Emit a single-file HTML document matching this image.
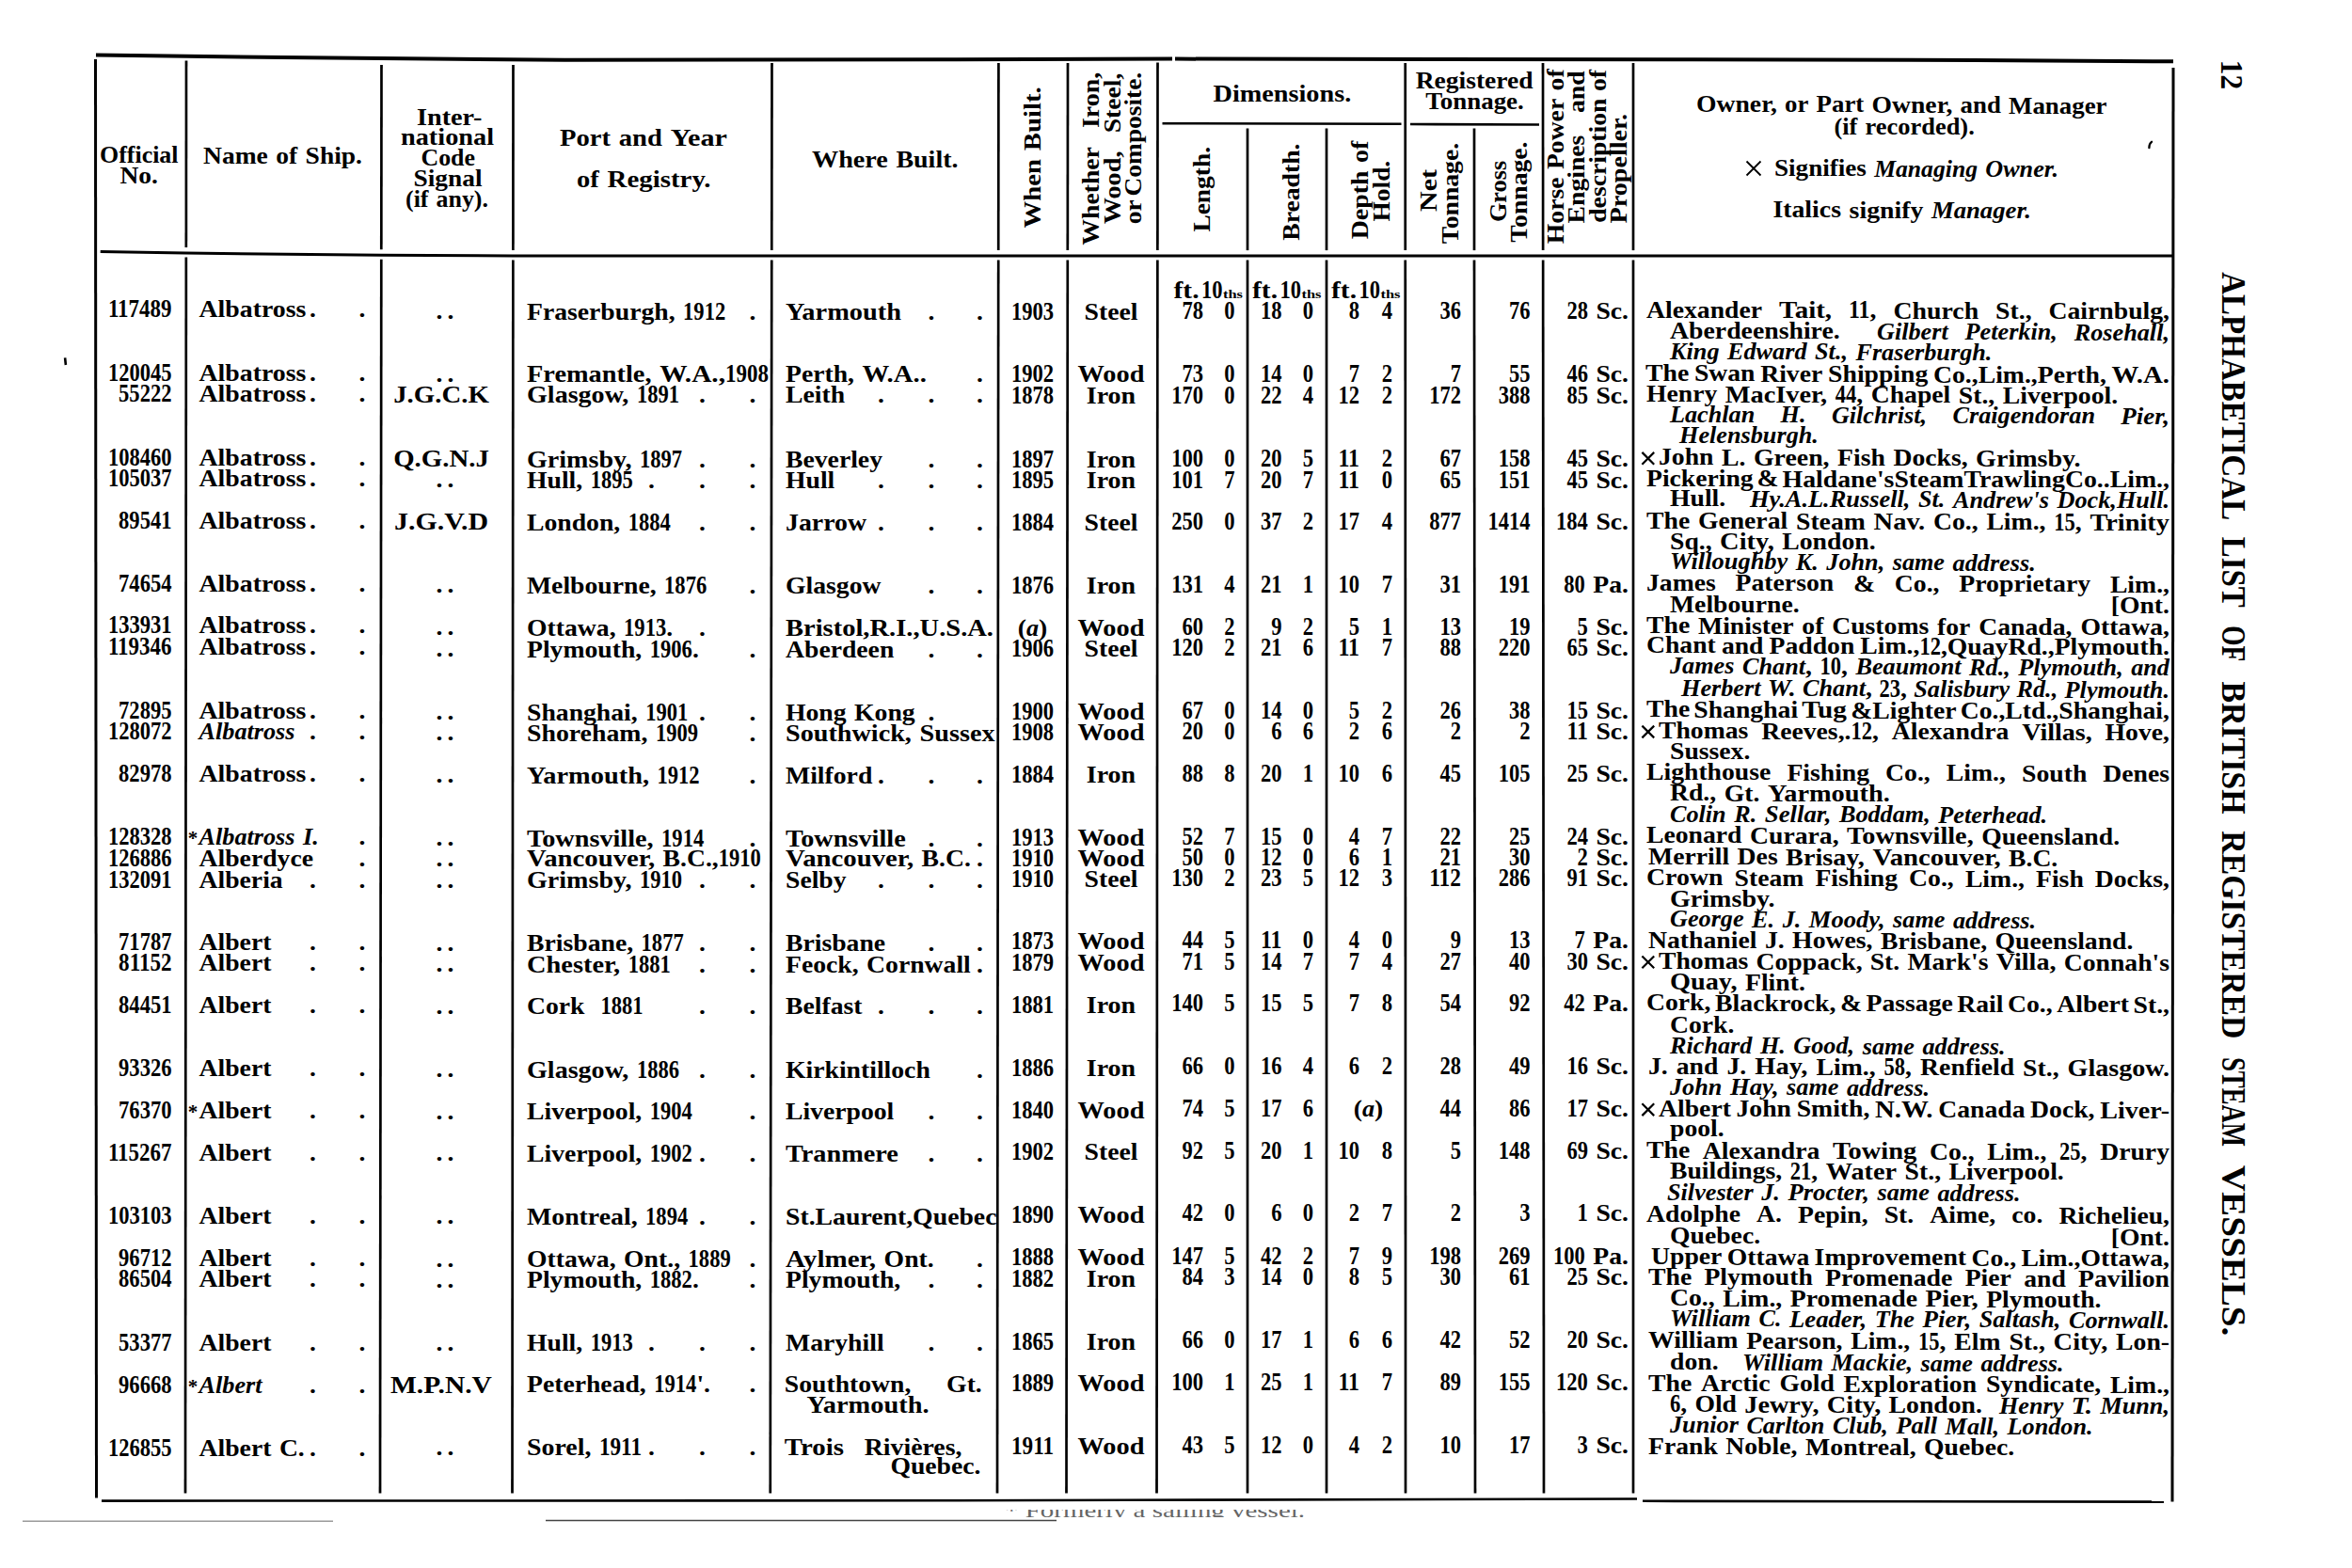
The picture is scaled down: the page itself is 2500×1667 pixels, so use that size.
<!DOCTYPE html>
<html><head><meta charset="utf-8"><style>
html,body{margin:0;padding:0;background:#fff;overflow:hidden;}
svg{display:block;}
</style></head><body>
<svg width="2500" height="1667" viewBox="0 0 2500 1667">
<defs><clipPath id="fc"><rect x="1000" y="1605" width="500" height="8"/></clipPath></defs>
<rect width="2500" height="1667" fill="#fff"/>
<polyline points="102,58.6 300,61 600,63.8 1000,63.3 1246,62.4" fill="none" stroke="#000" stroke-width="4"/>
<polyline points="1249,62.6 1800,63.2 2100,64 2310,65.3" fill="none" stroke="#000" stroke-width="4"/>
<line x1="101.5" y1="63" x2="102.5" y2="1592.5" stroke="#000" stroke-width="3"/>
<line x1="2310" y1="72" x2="2309" y2="1596.5" stroke="#000" stroke-width="3"/>
<polyline points="106.7,267.4 197,269.1 405,271.3 545,271.9 1060,272.1 2309,272.1" fill="none" stroke="#000" stroke-width="3"/>
<polyline points="108,1595.6 1000,1595.3 1200,1594.8 1740,1593.5" fill="none" stroke="#000" stroke-width="2.6"/>
<polyline points="1746,1595.8 2300,1596.6" fill="none" stroke="#000" stroke-width="2.6"/>
<line x1="198" y1="64.5" x2="197.86959252992574" y2="263.11057692307696" stroke="#000" stroke-width="2.7"/>
<line x1="197.86269824233548" y1="273.61057692307696" x2="197" y2="1587.5" stroke="#000" stroke-width="2.7"/>
<line x1="405.5" y1="69" x2="405.30608942095114" y2="265.3021428571429" stroke="#000" stroke-width="2.7"/>
<line x1="405.29571734324287" y1="275.8021428571429" x2="404" y2="1587.5" stroke="#000" stroke-width="2.7"/>
<line x1="545.5" y1="69" x2="545.3703324371586" y2="265.90019417475725" stroke="#000" stroke-width="2.7"/>
<line x1="545.3634177186864" y1="276.40019417475725" x2="544.5" y2="1587.5" stroke="#000" stroke-width="2.7"/>
<line x1="820.5" y1="67" x2="820.2709554534629" y2="266.0069902912621" stroke="#000" stroke-width="2.7"/>
<line x1="820.2588706129499" y1="276.5069902912621" x2="818.75" y2="1587.5" stroke="#000" stroke-width="2.7"/>
<line x1="1061.4" y1="67" x2="1061.216678724104" y2="266.1" stroke="#000" stroke-width="2.7"/>
<line x1="1061.2070108516937" y1="276.6" x2="1060" y2="1587.5" stroke="#000" stroke-width="2.7"/>
<line x1="1135" y1="67" x2="1134.8035843472542" y2="266.1" stroke="#000" stroke-width="2.7"/>
<line x1="1134.7932259125287" y1="276.6" x2="1133.5" y2="1587.5" stroke="#000" stroke-width="2.7"/>
<line x1="1230.5" y1="66.5" x2="1230.3687705456937" y2="266.1" stroke="#000" stroke-width="2.7"/>
<line x1="1230.3618671926365" y1="276.6" x2="1229.5" y2="1587.5" stroke="#000" stroke-width="2.7"/>
<line x1="1493.7" y1="67" x2="1493.7392831305492" y2="266.1" stroke="#000" stroke-width="2.7"/>
<line x1="1493.7413548174943" y1="276.6" x2="1494" y2="1587.5" stroke="#000" stroke-width="2.7"/>
<line x1="1640" y1="67" x2="1640.1309437684972" y2="266.1" stroke="#000" stroke-width="2.7"/>
<line x1="1640.1378493916475" y1="276.6" x2="1641" y2="1587.5" stroke="#000" stroke-width="2.7"/>
<line x1="1736" y1="67" x2="1736.0" y2="266.1" stroke="#000" stroke-width="2.7"/>
<line x1="1736.0" y1="276.6" x2="1736" y2="1587.5" stroke="#000" stroke-width="2.7"/>
<line x1="1326" y1="136.5" x2="1326" y2="266.1" stroke="#000" stroke-width="2.7"/>
<line x1="1326" y1="276.6" x2="1326" y2="1587.5" stroke="#000" stroke-width="2.7"/>
<line x1="1410" y1="136.5" x2="1410" y2="266.1" stroke="#000" stroke-width="2.7"/>
<line x1="1410" y1="276.6" x2="1410" y2="1587.5" stroke="#000" stroke-width="2.7"/>
<line x1="1567" y1="136.5" x2="1567" y2="266.1" stroke="#000" stroke-width="2.7"/>
<line x1="1567" y1="276.6" x2="1568" y2="1587.5" stroke="#000" stroke-width="2.7"/>
<line x1="1235.5" y1="131.2" x2="1489.5" y2="131.8" stroke="#000" stroke-width="2.6"/>
<line x1="1499" y1="132" x2="1636" y2="132.5" stroke="#000" stroke-width="2.6"/>
<line x1="24" y1="1617.3" x2="354" y2="1617.3" stroke="#9a9a9a" stroke-width="1.6"/>
<line x1="580" y1="1616.5" x2="1123" y2="1616.5" stroke="#444" stroke-width="1.6"/>
<line x1="69.1" y1="380.3" x2="69.9" y2="388" stroke="#000" stroke-width="2.6"/>
<path d="M2287,150.8 Q2284.3,152.8 2284.4,157.2" fill="none" stroke="#000" stroke-width="2.3" stroke-linecap="round"/>
<g font-family="'Liberation Serif', serif" font-weight="bold" font-size="25.2" fill="#000">
<text x="106.0" y="172.5" textLength="83.5" lengthAdjust="spacingAndGlyphs">Official</text>
<text x="127.5" y="194.5" textLength="40.5" lengthAdjust="spacingAndGlyphs">No.</text>
<text x="216.0" y="173.6" textLength="68.8" lengthAdjust="spacingAndGlyphs">Name</text>
<text x="293.2" y="173.6" textLength="22.9" lengthAdjust="spacingAndGlyphs">of</text>
<text x="324.6" y="173.6" textLength="60.4" lengthAdjust="spacingAndGlyphs">Ship.</text>
<text x="443.0" y="132.5" textLength="69.5" lengthAdjust="spacingAndGlyphs">Inter-</text>
<text x="426.0" y="153.8" textLength="99.0" lengthAdjust="spacingAndGlyphs">national</text>
<text x="447.5" y="176.0" textLength="57.5" lengthAdjust="spacingAndGlyphs">Code</text>
<text x="439.5" y="198.0" textLength="73.0" lengthAdjust="spacingAndGlyphs">Signal</text>
<text x="431.0" y="220.4" textLength="24.5" lengthAdjust="spacingAndGlyphs">(if</text>
<text x="463.5" y="220.4" textLength="55.5" lengthAdjust="spacingAndGlyphs">any).</text>
<text x="595.0" y="154.5" textLength="54.0" lengthAdjust="spacingAndGlyphs">Port</text>
<text x="657.8" y="154.5" textLength="46.1" lengthAdjust="spacingAndGlyphs">and</text>
<text x="712.7" y="154.5" textLength="60.3" lengthAdjust="spacingAndGlyphs">Year</text>
<text x="613.0" y="199.1" textLength="23.7" lengthAdjust="spacingAndGlyphs">of</text>
<text x="645.5" y="199.1" textLength="110.0" lengthAdjust="spacingAndGlyphs">Registry.</text>
<text x="863.0" y="177.5" textLength="80.8" lengthAdjust="spacingAndGlyphs">Where</text>
<text x="952.4" y="177.5" textLength="66.1" lengthAdjust="spacingAndGlyphs">Built.</text>
<text x="1289.5" y="108.0" textLength="146.7" lengthAdjust="spacingAndGlyphs">Dimensions.</text>
<text x="1504.7" y="93.7" textLength="124.9" lengthAdjust="spacingAndGlyphs">Registered</text>
<text x="1515.3" y="116.1" textLength="104.5" lengthAdjust="spacingAndGlyphs">Tonnage.</text>
<text x="1803.0" y="118.8" textLength="85.8" lengthAdjust="spacingAndGlyphs">Owner,</text>
<text x="1897.0" y="119.2" textLength="25.3" lengthAdjust="spacingAndGlyphs">or</text>
<text x="1930.6" y="119.4" textLength="50.7" lengthAdjust="spacingAndGlyphs">Part</text>
<text x="1989.5" y="119.9" textLength="85.8" lengthAdjust="spacingAndGlyphs">Owner,</text>
<text x="2083.6" y="120.4" textLength="43.3" lengthAdjust="spacingAndGlyphs">and</text>
<text x="2135.1" y="120.9" textLength="104.4" lengthAdjust="spacingAndGlyphs">Manager</text>
<text x="1949.5" y="142.9" textLength="24.9" lengthAdjust="spacingAndGlyphs">(if</text>
<text x="1982.5" y="143.2" textLength="116.3" lengthAdjust="spacingAndGlyphs">recorded).</text>
<path d="M1856.5,171.5L1871.5,186.5M1871.5,171.5L1856.5,186.5" stroke="#000" stroke-width="1.8" fill="none"/>
<text x="1886.0" y="187.1" textLength="97.9" lengthAdjust="spacingAndGlyphs">Signifies</text>
<text x="1992.2" y="187.6" font-style="italic" textLength="109.8" lengthAdjust="spacingAndGlyphs">Managing</text>
<text x="2110.3" y="188.0" font-style="italic" textLength="77.7" lengthAdjust="spacingAndGlyphs">Owner.</text>
<text x="1884.4" y="231.3" textLength="72.6" lengthAdjust="spacingAndGlyphs">Italics</text>
<text x="1965.6" y="231.7" textLength="78.8" lengthAdjust="spacingAndGlyphs">signify</text>
<text x="2052.9" y="232.1" font-style="italic" textLength="106.1" lengthAdjust="spacingAndGlyphs">Manager.</text>
<g transform="translate(1105.6,242.5) rotate(-90)"><text x="0.0" y="0.0" textLength="73.5" lengthAdjust="spacingAndGlyphs">When</text>
<text x="82.3" y="0.0" textLength="67.9" lengthAdjust="spacingAndGlyphs">Built.</text></g>
<g transform="translate(1168,260.7) rotate(-90)"><text x="0.0" y="0.0" textLength="104.6" lengthAdjust="spacingAndGlyphs">Whether</text>
<text x="124.7" y="0.0" textLength="59.2" lengthAdjust="spacingAndGlyphs">Iron,</text></g>
<g transform="translate(1190.5,238.2) rotate(-90)"><text x="0.0" y="0.0" textLength="77.7" lengthAdjust="spacingAndGlyphs">Wood,</text>
<text x="96.9" y="0.0" textLength="63.8" lengthAdjust="spacingAndGlyphs">Steel,</text></g>
<g transform="translate(1213,238.2) rotate(-90)"><text x="0.0" y="0.0" textLength="25.8" lengthAdjust="spacingAndGlyphs">or</text>
<text x="29.8" y="0.0" textLength="131.6" lengthAdjust="spacingAndGlyphs">Composite.</text></g>
<g transform="translate(1286,246.6) rotate(-90)"><text x="0.0" y="0.0" textLength="90.6" lengthAdjust="spacingAndGlyphs">Length.</text></g>
<g transform="translate(1381.4,255.7) rotate(-90)"><text x="0.0" y="0.0" textLength="103.1" lengthAdjust="spacingAndGlyphs">Breadth.</text></g>
<g transform="translate(1454.4,254.3) rotate(-90)"><text x="0.0" y="0.0" textLength="72.7" lengthAdjust="spacingAndGlyphs">Depth</text>
<text x="81.3" y="0.0" textLength="23.2" lengthAdjust="spacingAndGlyphs">of</text></g>
<g transform="translate(1476.9,235.4) rotate(-90)"><text x="0.0" y="0.0" textLength="64.6" lengthAdjust="spacingAndGlyphs">Hold.</text></g>
<g transform="translate(1527.2,224.9) rotate(-90)"><text x="0.0" y="0.0" textLength="44.9" lengthAdjust="spacingAndGlyphs">Net</text></g>
<g transform="translate(1550.3,259.2) rotate(-90)"><text x="0.0" y="0.0" textLength="107.3" lengthAdjust="spacingAndGlyphs">Tonnage.</text></g>
<g transform="translate(1600.8,236.1) rotate(-90)"><text x="0.0" y="0.0" textLength="65.3" lengthAdjust="spacingAndGlyphs">Gross</text></g>
<g transform="translate(1622.6,257.8) rotate(-90)"><text x="0.0" y="0.0" textLength="107.3" lengthAdjust="spacingAndGlyphs">Tonnage.</text></g>
<g transform="translate(1661.9,259.2) rotate(-90)"><text x="0.0" y="0.0" textLength="70.7" lengthAdjust="spacingAndGlyphs">Horse</text>
<text x="79.1" y="0.0" textLength="75.3" lengthAdjust="spacingAndGlyphs">Power</text>
<text x="162.8" y="0.0" textLength="23.1" lengthAdjust="spacingAndGlyphs">of</text></g>
<g transform="translate(1684.3,237.5) rotate(-90)"><text x="0.0" y="0.0" textLength="93.9" lengthAdjust="spacingAndGlyphs">Engines</text>
<text x="117.5" y="0.0" textLength="44.6" lengthAdjust="spacingAndGlyphs">and</text></g>
<g transform="translate(1706.8,236.8) rotate(-90)"><text x="0.0" y="0.0" textLength="132.3" lengthAdjust="spacingAndGlyphs">description</text>
<text x="139.7" y="0.0" textLength="23.1" lengthAdjust="spacingAndGlyphs">of</text></g>
<g transform="translate(1728.5,237.5) rotate(-90)"><text x="0.0" y="0.0" textLength="116.5" lengthAdjust="spacingAndGlyphs">Propeller.</text></g>
<text x="114.9" y="337.0" font-size="26.8" textLength="67.6" lengthAdjust="spacingAndGlyphs">117489</text>
<text x="211.5" y="337.0" textLength="113.8" lengthAdjust="spacingAndGlyphs">Albatross</text>
<text x="332.5" y="337.0" text-anchor="middle" textLength="6.9" lengthAdjust="spacingAndGlyphs">.</text>
<text x="385.0" y="337.0" text-anchor="middle" textLength="6.9" lengthAdjust="spacingAndGlyphs">.</text>
<text x="467.0" y="338.5" text-anchor="middle" textLength="6.9" lengthAdjust="spacingAndGlyphs">.</text>
<text x="479.0" y="338.5" text-anchor="middle" textLength="6.9" lengthAdjust="spacingAndGlyphs">.</text>
<text x="560.0" y="339.9" textLength="157.6" lengthAdjust="spacingAndGlyphs">Fraserburgh,</text>
<text x="726.1" y="339.9" font-size="26.8" textLength="45.1" lengthAdjust="spacingAndGlyphs">1912</text>
<text x="800.0" y="339.9" text-anchor="middle" textLength="6.9" lengthAdjust="spacingAndGlyphs">.</text>
<text x="835.0" y="339.9" textLength="123.0" lengthAdjust="spacingAndGlyphs">Yarmouth</text>
<text x="990.0" y="339.9" text-anchor="middle" textLength="6.9" lengthAdjust="spacingAndGlyphs">.</text>
<text x="1041.5" y="339.9" text-anchor="middle" textLength="6.9" lengthAdjust="spacingAndGlyphs">.</text>
<text x="1075.0" y="339.6" font-size="26.8" textLength="45.1" lengthAdjust="spacingAndGlyphs">1903</text>
<text x="1152.6" y="339.6" textLength="56.9" lengthAdjust="spacingAndGlyphs">Steel</text>
<text x="1256.5" y="339.3" font-size="26.8" textLength="22.5" lengthAdjust="spacingAndGlyphs">78</text>
<text x="1301.2" y="339.3" font-size="26.8" textLength="11.3" lengthAdjust="spacingAndGlyphs">0</text>
<text x="1340.0" y="339.3" font-size="26.8" textLength="22.5" lengthAdjust="spacingAndGlyphs">18</text>
<text x="1384.7" y="339.3" font-size="26.8" textLength="11.3" lengthAdjust="spacingAndGlyphs">0</text>
<text x="1433.7" y="339.3" font-size="26.8" textLength="11.3" lengthAdjust="spacingAndGlyphs">8</text>
<text x="1468.7" y="339.3" font-size="26.8" textLength="11.3" lengthAdjust="spacingAndGlyphs">4</text>
<text x="1530.5" y="339.3" font-size="26.8" textLength="22.5" lengthAdjust="spacingAndGlyphs">36</text>
<text x="1604.0" y="339.3" font-size="26.8" textLength="22.5" lengthAdjust="spacingAndGlyphs">76</text>
<text x="1665.4" y="339.3" font-size="26.8" textLength="22.5" lengthAdjust="spacingAndGlyphs">28</text>
<text x="1696.4" y="339.3" textLength="34.6" lengthAdjust="spacingAndGlyphs">Sc.</text>
<text x="114.9" y="404.7" font-size="26.8" textLength="67.6" lengthAdjust="spacingAndGlyphs">120045</text>
<text x="211.5" y="404.7" textLength="113.8" lengthAdjust="spacingAndGlyphs">Albatross</text>
<text x="332.5" y="404.7" text-anchor="middle" textLength="6.9" lengthAdjust="spacingAndGlyphs">.</text>
<text x="385.0" y="404.7" text-anchor="middle" textLength="6.9" lengthAdjust="spacingAndGlyphs">.</text>
<text x="467.0" y="405.5" text-anchor="middle" textLength="6.9" lengthAdjust="spacingAndGlyphs">.</text>
<text x="479.0" y="405.5" text-anchor="middle" textLength="6.9" lengthAdjust="spacingAndGlyphs">.</text>
<text x="560.0" y="406.2" textLength="132.5" lengthAdjust="spacingAndGlyphs">Fremantle,</text>
<text x="701.2" y="406.2" textLength="69.8" lengthAdjust="spacingAndGlyphs">W.A.,</text>
<text x="771.0" y="406.2" font-size="26.8" textLength="46.0" lengthAdjust="spacingAndGlyphs">1908</text>
<text x="835.0" y="406.2" textLength="73.0" lengthAdjust="spacingAndGlyphs">Perth,</text>
<text x="916.5" y="406.2" textLength="68.4" lengthAdjust="spacingAndGlyphs">W.A..</text>
<text x="1041.5" y="406.2" text-anchor="middle" textLength="6.9" lengthAdjust="spacingAndGlyphs">.</text>
<text x="1075.0" y="406.3" font-size="26.8" textLength="45.1" lengthAdjust="spacingAndGlyphs">1902</text>
<text x="1145.6" y="406.3" textLength="70.8" lengthAdjust="spacingAndGlyphs">Wood</text>
<text x="1256.5" y="406.4" font-size="26.8" textLength="22.5" lengthAdjust="spacingAndGlyphs">73</text>
<text x="1301.2" y="406.4" font-size="26.8" textLength="11.3" lengthAdjust="spacingAndGlyphs">0</text>
<text x="1340.0" y="406.4" font-size="26.8" textLength="22.5" lengthAdjust="spacingAndGlyphs">14</text>
<text x="1384.7" y="406.4" font-size="26.8" textLength="11.3" lengthAdjust="spacingAndGlyphs">0</text>
<text x="1433.7" y="406.4" font-size="26.8" textLength="11.3" lengthAdjust="spacingAndGlyphs">7</text>
<text x="1468.7" y="406.4" font-size="26.8" textLength="11.3" lengthAdjust="spacingAndGlyphs">2</text>
<text x="1541.7" y="406.4" font-size="26.8" textLength="11.3" lengthAdjust="spacingAndGlyphs">7</text>
<text x="1604.0" y="406.4" font-size="26.8" textLength="22.5" lengthAdjust="spacingAndGlyphs">55</text>
<text x="1665.4" y="406.4" font-size="26.8" textLength="22.5" lengthAdjust="spacingAndGlyphs">46</text>
<text x="1696.4" y="406.4" textLength="34.6" lengthAdjust="spacingAndGlyphs">Sc.</text>
<text x="126.1" y="427.2" font-size="26.8" textLength="56.4" lengthAdjust="spacingAndGlyphs">55222</text>
<text x="211.5" y="427.2" textLength="113.8" lengthAdjust="spacingAndGlyphs">Albatross</text>
<text x="332.5" y="427.2" text-anchor="middle" textLength="6.9" lengthAdjust="spacingAndGlyphs">.</text>
<text x="385.0" y="427.2" text-anchor="middle" textLength="6.9" lengthAdjust="spacingAndGlyphs">.</text>
<text x="418.2" y="427.8" textLength="101.6" lengthAdjust="spacingAndGlyphs">J.G.C.K</text>
<text x="560.0" y="428.4" textLength="108.4" lengthAdjust="spacingAndGlyphs">Glasgow,</text>
<text x="676.9" y="428.4" font-size="26.8" textLength="45.1" lengthAdjust="spacingAndGlyphs">1891</text>
<text x="746.5" y="428.4" text-anchor="middle" textLength="6.9" lengthAdjust="spacingAndGlyphs">.</text>
<text x="800.0" y="428.4" text-anchor="middle" textLength="6.9" lengthAdjust="spacingAndGlyphs">.</text>
<text x="835.0" y="428.4" textLength="63.1" lengthAdjust="spacingAndGlyphs">Leith</text>
<text x="936.5" y="428.4" text-anchor="middle" textLength="6.9" lengthAdjust="spacingAndGlyphs">.</text>
<text x="990.0" y="428.4" text-anchor="middle" textLength="6.9" lengthAdjust="spacingAndGlyphs">.</text>
<text x="1041.5" y="428.4" text-anchor="middle" textLength="6.9" lengthAdjust="spacingAndGlyphs">.</text>
<text x="1075.0" y="428.9" font-size="26.8" textLength="45.1" lengthAdjust="spacingAndGlyphs">1878</text>
<text x="1154.8" y="428.9" textLength="52.3" lengthAdjust="spacingAndGlyphs">Iron</text>
<text x="1245.2" y="429.4" font-size="26.8" textLength="33.8" lengthAdjust="spacingAndGlyphs">170</text>
<text x="1301.2" y="429.4" font-size="26.8" textLength="11.3" lengthAdjust="spacingAndGlyphs">0</text>
<text x="1340.0" y="429.4" font-size="26.8" textLength="22.5" lengthAdjust="spacingAndGlyphs">22</text>
<text x="1384.7" y="429.4" font-size="26.8" textLength="11.3" lengthAdjust="spacingAndGlyphs">4</text>
<text x="1422.5" y="429.4" font-size="26.8" textLength="22.5" lengthAdjust="spacingAndGlyphs">12</text>
<text x="1468.7" y="429.4" font-size="26.8" textLength="11.3" lengthAdjust="spacingAndGlyphs">2</text>
<text x="1519.2" y="429.4" font-size="26.8" textLength="33.8" lengthAdjust="spacingAndGlyphs">172</text>
<text x="1592.7" y="429.4" font-size="26.8" textLength="33.8" lengthAdjust="spacingAndGlyphs">388</text>
<text x="1665.4" y="429.4" font-size="26.8" textLength="22.5" lengthAdjust="spacingAndGlyphs">85</text>
<text x="1696.4" y="429.4" textLength="34.6" lengthAdjust="spacingAndGlyphs">Sc.</text>
<text x="114.9" y="494.8" font-size="26.8" textLength="67.6" lengthAdjust="spacingAndGlyphs">108460</text>
<text x="211.5" y="494.8" textLength="113.8" lengthAdjust="spacingAndGlyphs">Albatross</text>
<text x="332.5" y="494.8" text-anchor="middle" textLength="6.9" lengthAdjust="spacingAndGlyphs">.</text>
<text x="385.0" y="494.8" text-anchor="middle" textLength="6.9" lengthAdjust="spacingAndGlyphs">.</text>
<text x="418.2" y="495.8" textLength="101.6" lengthAdjust="spacingAndGlyphs">Q.G.N.J</text>
<text x="560.0" y="496.7" textLength="111.5" lengthAdjust="spacingAndGlyphs">Grimsby,</text>
<text x="680.0" y="496.7" font-size="26.8" textLength="45.1" lengthAdjust="spacingAndGlyphs">1897</text>
<text x="746.5" y="496.7" text-anchor="middle" textLength="6.9" lengthAdjust="spacingAndGlyphs">.</text>
<text x="800.0" y="496.7" text-anchor="middle" textLength="6.9" lengthAdjust="spacingAndGlyphs">.</text>
<text x="835.0" y="496.7" textLength="103.0" lengthAdjust="spacingAndGlyphs">Beverley</text>
<text x="990.0" y="496.7" text-anchor="middle" textLength="6.9" lengthAdjust="spacingAndGlyphs">.</text>
<text x="1041.5" y="496.7" text-anchor="middle" textLength="6.9" lengthAdjust="spacingAndGlyphs">.</text>
<text x="1075.0" y="496.5" font-size="26.8" textLength="45.1" lengthAdjust="spacingAndGlyphs">1897</text>
<text x="1154.8" y="496.5" textLength="52.3" lengthAdjust="spacingAndGlyphs">Iron</text>
<text x="1245.2" y="496.2" font-size="26.8" textLength="33.8" lengthAdjust="spacingAndGlyphs">100</text>
<text x="1301.2" y="496.2" font-size="26.8" textLength="11.3" lengthAdjust="spacingAndGlyphs">0</text>
<text x="1340.0" y="496.2" font-size="26.8" textLength="22.5" lengthAdjust="spacingAndGlyphs">20</text>
<text x="1384.7" y="496.2" font-size="26.8" textLength="11.3" lengthAdjust="spacingAndGlyphs">5</text>
<text x="1422.5" y="496.2" font-size="26.8" textLength="22.5" lengthAdjust="spacingAndGlyphs">11</text>
<text x="1468.7" y="496.2" font-size="26.8" textLength="11.3" lengthAdjust="spacingAndGlyphs">2</text>
<text x="1530.5" y="496.2" font-size="26.8" textLength="22.5" lengthAdjust="spacingAndGlyphs">67</text>
<text x="1592.7" y="496.2" font-size="26.8" textLength="33.8" lengthAdjust="spacingAndGlyphs">158</text>
<text x="1665.4" y="496.2" font-size="26.8" textLength="22.5" lengthAdjust="spacingAndGlyphs">45</text>
<text x="1696.4" y="496.2" textLength="34.6" lengthAdjust="spacingAndGlyphs">Sc.</text>
<text x="114.9" y="516.9" font-size="26.8" textLength="67.6" lengthAdjust="spacingAndGlyphs">105037</text>
<text x="211.5" y="516.9" textLength="113.8" lengthAdjust="spacingAndGlyphs">Albatross</text>
<text x="332.5" y="516.9" text-anchor="middle" textLength="6.9" lengthAdjust="spacingAndGlyphs">.</text>
<text x="385.0" y="516.9" text-anchor="middle" textLength="6.9" lengthAdjust="spacingAndGlyphs">.</text>
<text x="467.0" y="518.0" text-anchor="middle" textLength="6.9" lengthAdjust="spacingAndGlyphs">.</text>
<text x="479.0" y="518.0" text-anchor="middle" textLength="6.9" lengthAdjust="spacingAndGlyphs">.</text>
<text x="560.0" y="519.0" textLength="59.2" lengthAdjust="spacingAndGlyphs">Hull,</text>
<text x="627.7" y="519.0" font-size="26.8" textLength="45.1" lengthAdjust="spacingAndGlyphs">1895</text>
<text x="692.5" y="519.0" text-anchor="middle" textLength="6.9" lengthAdjust="spacingAndGlyphs">.</text>
<text x="746.5" y="519.0" text-anchor="middle" textLength="6.9" lengthAdjust="spacingAndGlyphs">.</text>
<text x="800.0" y="519.0" text-anchor="middle" textLength="6.9" lengthAdjust="spacingAndGlyphs">.</text>
<text x="835.0" y="519.0" textLength="52.3" lengthAdjust="spacingAndGlyphs">Hull</text>
<text x="936.5" y="519.0" text-anchor="middle" textLength="6.9" lengthAdjust="spacingAndGlyphs">.</text>
<text x="990.0" y="519.0" text-anchor="middle" textLength="6.9" lengthAdjust="spacingAndGlyphs">.</text>
<text x="1041.5" y="519.0" text-anchor="middle" textLength="6.9" lengthAdjust="spacingAndGlyphs">.</text>
<text x="1075.0" y="518.9" font-size="26.8" textLength="45.1" lengthAdjust="spacingAndGlyphs">1895</text>
<text x="1154.8" y="518.9" textLength="52.3" lengthAdjust="spacingAndGlyphs">Iron</text>
<text x="1245.2" y="518.7" font-size="26.8" textLength="33.8" lengthAdjust="spacingAndGlyphs">101</text>
<text x="1301.2" y="518.7" font-size="26.8" textLength="11.3" lengthAdjust="spacingAndGlyphs">7</text>
<text x="1340.0" y="518.7" font-size="26.8" textLength="22.5" lengthAdjust="spacingAndGlyphs">20</text>
<text x="1384.7" y="518.7" font-size="26.8" textLength="11.3" lengthAdjust="spacingAndGlyphs">7</text>
<text x="1422.5" y="518.7" font-size="26.8" textLength="22.5" lengthAdjust="spacingAndGlyphs">11</text>
<text x="1468.7" y="518.7" font-size="26.8" textLength="11.3" lengthAdjust="spacingAndGlyphs">0</text>
<text x="1530.5" y="518.7" font-size="26.8" textLength="22.5" lengthAdjust="spacingAndGlyphs">65</text>
<text x="1592.7" y="518.7" font-size="26.8" textLength="33.8" lengthAdjust="spacingAndGlyphs">151</text>
<text x="1665.4" y="518.7" font-size="26.8" textLength="22.5" lengthAdjust="spacingAndGlyphs">45</text>
<text x="1696.4" y="518.7" textLength="34.6" lengthAdjust="spacingAndGlyphs">Sc.</text>
<text x="126.1" y="561.6" font-size="26.8" textLength="56.4" lengthAdjust="spacingAndGlyphs">89541</text>
<text x="211.5" y="561.6" textLength="113.8" lengthAdjust="spacingAndGlyphs">Albatross</text>
<text x="332.5" y="561.6" text-anchor="middle" textLength="6.9" lengthAdjust="spacingAndGlyphs">.</text>
<text x="385.0" y="561.6" text-anchor="middle" textLength="6.9" lengthAdjust="spacingAndGlyphs">.</text>
<text x="419.0" y="562.9" textLength="100.0" lengthAdjust="spacingAndGlyphs">J.G.V.D</text>
<text x="560.0" y="564.1" textLength="99.3" lengthAdjust="spacingAndGlyphs">London,</text>
<text x="667.8" y="564.1" font-size="26.8" textLength="45.1" lengthAdjust="spacingAndGlyphs">1884</text>
<text x="746.5" y="564.1" text-anchor="middle" textLength="6.9" lengthAdjust="spacingAndGlyphs">.</text>
<text x="800.0" y="564.1" text-anchor="middle" textLength="6.9" lengthAdjust="spacingAndGlyphs">.</text>
<text x="835.0" y="564.1" textLength="86.1" lengthAdjust="spacingAndGlyphs">Jarrow</text>
<text x="936.5" y="564.1" text-anchor="middle" textLength="6.9" lengthAdjust="spacingAndGlyphs">.</text>
<text x="990.0" y="564.1" text-anchor="middle" textLength="6.9" lengthAdjust="spacingAndGlyphs">.</text>
<text x="1041.5" y="564.1" text-anchor="middle" textLength="6.9" lengthAdjust="spacingAndGlyphs">.</text>
<text x="1075.0" y="563.6" font-size="26.8" textLength="45.1" lengthAdjust="spacingAndGlyphs">1884</text>
<text x="1152.6" y="563.6" textLength="56.9" lengthAdjust="spacingAndGlyphs">Steel</text>
<text x="1245.2" y="563.1" font-size="26.8" textLength="33.8" lengthAdjust="spacingAndGlyphs">250</text>
<text x="1301.2" y="563.1" font-size="26.8" textLength="11.3" lengthAdjust="spacingAndGlyphs">0</text>
<text x="1340.0" y="563.1" font-size="26.8" textLength="22.5" lengthAdjust="spacingAndGlyphs">37</text>
<text x="1384.7" y="563.1" font-size="26.8" textLength="11.3" lengthAdjust="spacingAndGlyphs">2</text>
<text x="1422.5" y="563.1" font-size="26.8" textLength="22.5" lengthAdjust="spacingAndGlyphs">17</text>
<text x="1468.7" y="563.1" font-size="26.8" textLength="11.3" lengthAdjust="spacingAndGlyphs">4</text>
<text x="1519.2" y="563.1" font-size="26.8" textLength="33.8" lengthAdjust="spacingAndGlyphs">877</text>
<text x="1581.4" y="563.1" font-size="26.8" textLength="45.1" lengthAdjust="spacingAndGlyphs">1414</text>
<text x="1654.1" y="563.1" font-size="26.8" textLength="33.8" lengthAdjust="spacingAndGlyphs">184</text>
<text x="1696.4" y="563.1" textLength="34.6" lengthAdjust="spacingAndGlyphs">Sc.</text>
<text x="126.1" y="629.4" font-size="26.8" textLength="56.4" lengthAdjust="spacingAndGlyphs">74654</text>
<text x="211.5" y="629.4" textLength="113.8" lengthAdjust="spacingAndGlyphs">Albatross</text>
<text x="332.5" y="629.4" text-anchor="middle" textLength="6.9" lengthAdjust="spacingAndGlyphs">.</text>
<text x="385.0" y="629.4" text-anchor="middle" textLength="6.9" lengthAdjust="spacingAndGlyphs">.</text>
<text x="467.0" y="630.3" text-anchor="middle" textLength="6.9" lengthAdjust="spacingAndGlyphs">.</text>
<text x="479.0" y="630.3" text-anchor="middle" textLength="6.9" lengthAdjust="spacingAndGlyphs">.</text>
<text x="560.0" y="631.2" textLength="137.6" lengthAdjust="spacingAndGlyphs">Melbourne,</text>
<text x="706.1" y="631.2" font-size="26.8" textLength="45.1" lengthAdjust="spacingAndGlyphs">1876</text>
<text x="800.0" y="631.2" text-anchor="middle" textLength="6.9" lengthAdjust="spacingAndGlyphs">.</text>
<text x="835.0" y="631.2" textLength="101.5" lengthAdjust="spacingAndGlyphs">Glasgow</text>
<text x="990.0" y="631.2" text-anchor="middle" textLength="6.9" lengthAdjust="spacingAndGlyphs">.</text>
<text x="1041.5" y="631.2" text-anchor="middle" textLength="6.9" lengthAdjust="spacingAndGlyphs">.</text>
<text x="1075.0" y="630.7" font-size="26.8" textLength="45.1" lengthAdjust="spacingAndGlyphs">1876</text>
<text x="1154.8" y="630.7" textLength="52.3" lengthAdjust="spacingAndGlyphs">Iron</text>
<text x="1245.2" y="630.2" font-size="26.8" textLength="33.8" lengthAdjust="spacingAndGlyphs">131</text>
<text x="1301.2" y="630.2" font-size="26.8" textLength="11.3" lengthAdjust="spacingAndGlyphs">4</text>
<text x="1340.0" y="630.2" font-size="26.8" textLength="22.5" lengthAdjust="spacingAndGlyphs">21</text>
<text x="1384.7" y="630.2" font-size="26.8" textLength="11.3" lengthAdjust="spacingAndGlyphs">1</text>
<text x="1422.5" y="630.2" font-size="26.8" textLength="22.5" lengthAdjust="spacingAndGlyphs">10</text>
<text x="1468.7" y="630.2" font-size="26.8" textLength="11.3" lengthAdjust="spacingAndGlyphs">7</text>
<text x="1530.5" y="630.2" font-size="26.8" textLength="22.5" lengthAdjust="spacingAndGlyphs">31</text>
<text x="1592.7" y="630.2" font-size="26.8" textLength="33.8" lengthAdjust="spacingAndGlyphs">191</text>
<text x="1662.3" y="630.2" font-size="26.8" textLength="22.5" lengthAdjust="spacingAndGlyphs">80</text>
<text x="1693.3" y="630.2" textLength="37.7" lengthAdjust="spacingAndGlyphs">Pa.</text>
<text x="114.9" y="673.3" font-size="26.8" textLength="67.6" lengthAdjust="spacingAndGlyphs">133931</text>
<text x="211.5" y="673.3" textLength="113.8" lengthAdjust="spacingAndGlyphs">Albatross</text>
<text x="332.5" y="673.3" text-anchor="middle" textLength="6.9" lengthAdjust="spacingAndGlyphs">.</text>
<text x="385.0" y="673.3" text-anchor="middle" textLength="6.9" lengthAdjust="spacingAndGlyphs">.</text>
<text x="467.0" y="674.9" text-anchor="middle" textLength="6.9" lengthAdjust="spacingAndGlyphs">.</text>
<text x="479.0" y="674.9" text-anchor="middle" textLength="6.9" lengthAdjust="spacingAndGlyphs">.</text>
<text x="560.0" y="676.4" textLength="94.6" lengthAdjust="spacingAndGlyphs">Ottawa,</text>
<text x="663.1" y="676.4" font-size="26.8" textLength="45.1" lengthAdjust="spacingAndGlyphs">1913</text>
<text x="708.2" y="676.4" textLength="6.9" lengthAdjust="spacingAndGlyphs">.</text>
<text x="746.5" y="676.4" text-anchor="middle" textLength="6.9" lengthAdjust="spacingAndGlyphs">.</text>
<text x="835.0" y="676.4" textLength="221.0" lengthAdjust="spacingAndGlyphs">Bristol,R.I.,U.S.A.</text>
<text x="1081.7" y="675.6" textLength="9.2" lengthAdjust="spacingAndGlyphs">(</text>
<text x="1090.9" y="675.6" font-style="italic" textLength="13.1" lengthAdjust="spacingAndGlyphs">a</text>
<text x="1104.1" y="675.6" textLength="9.2" lengthAdjust="spacingAndGlyphs">)</text>
<text x="1145.6" y="675.6" textLength="70.8" lengthAdjust="spacingAndGlyphs">Wood</text>
<text x="1256.5" y="674.8" font-size="26.8" textLength="22.5" lengthAdjust="spacingAndGlyphs">60</text>
<text x="1301.2" y="674.8" font-size="26.8" textLength="11.3" lengthAdjust="spacingAndGlyphs">2</text>
<text x="1351.2" y="674.8" font-size="26.8" textLength="11.3" lengthAdjust="spacingAndGlyphs">9</text>
<text x="1384.7" y="674.8" font-size="26.8" textLength="11.3" lengthAdjust="spacingAndGlyphs">2</text>
<text x="1433.7" y="674.8" font-size="26.8" textLength="11.3" lengthAdjust="spacingAndGlyphs">5</text>
<text x="1468.7" y="674.8" font-size="26.8" textLength="11.3" lengthAdjust="spacingAndGlyphs">1</text>
<text x="1530.5" y="674.8" font-size="26.8" textLength="22.5" lengthAdjust="spacingAndGlyphs">13</text>
<text x="1604.0" y="674.8" font-size="26.8" textLength="22.5" lengthAdjust="spacingAndGlyphs">19</text>
<text x="1676.6" y="674.8" font-size="26.8" textLength="11.3" lengthAdjust="spacingAndGlyphs">5</text>
<text x="1696.4" y="674.8" textLength="34.6" lengthAdjust="spacingAndGlyphs">Sc.</text>
<text x="114.9" y="696.2" font-size="26.8" textLength="67.6" lengthAdjust="spacingAndGlyphs">119346</text>
<text x="211.5" y="696.2" textLength="113.8" lengthAdjust="spacingAndGlyphs">Albatross</text>
<text x="332.5" y="696.2" text-anchor="middle" textLength="6.9" lengthAdjust="spacingAndGlyphs">.</text>
<text x="385.0" y="696.2" text-anchor="middle" textLength="6.9" lengthAdjust="spacingAndGlyphs">.</text>
<text x="467.0" y="697.5" text-anchor="middle" textLength="6.9" lengthAdjust="spacingAndGlyphs">.</text>
<text x="479.0" y="697.5" text-anchor="middle" textLength="6.9" lengthAdjust="spacingAndGlyphs">.</text>
<text x="560.0" y="698.7" textLength="122.3" lengthAdjust="spacingAndGlyphs">Plymouth,</text>
<text x="690.8" y="698.7" font-size="26.8" textLength="45.1" lengthAdjust="spacingAndGlyphs">1906</text>
<text x="735.9" y="698.7" textLength="6.9" lengthAdjust="spacingAndGlyphs">.</text>
<text x="800.0" y="698.7" text-anchor="middle" textLength="6.9" lengthAdjust="spacingAndGlyphs">.</text>
<text x="835.0" y="698.7" textLength="115.3" lengthAdjust="spacingAndGlyphs">Aberdeen</text>
<text x="990.0" y="698.7" text-anchor="middle" textLength="6.9" lengthAdjust="spacingAndGlyphs">.</text>
<text x="1041.5" y="698.7" text-anchor="middle" textLength="6.9" lengthAdjust="spacingAndGlyphs">.</text>
<text x="1075.0" y="698.0" font-size="26.8" textLength="45.1" lengthAdjust="spacingAndGlyphs">1906</text>
<text x="1152.6" y="698.0" textLength="56.9" lengthAdjust="spacingAndGlyphs">Steel</text>
<text x="1245.2" y="697.2" font-size="26.8" textLength="33.8" lengthAdjust="spacingAndGlyphs">120</text>
<text x="1301.2" y="697.2" font-size="26.8" textLength="11.3" lengthAdjust="spacingAndGlyphs">2</text>
<text x="1340.0" y="697.2" font-size="26.8" textLength="22.5" lengthAdjust="spacingAndGlyphs">21</text>
<text x="1384.7" y="697.2" font-size="26.8" textLength="11.3" lengthAdjust="spacingAndGlyphs">6</text>
<text x="1422.5" y="697.2" font-size="26.8" textLength="22.5" lengthAdjust="spacingAndGlyphs">11</text>
<text x="1468.7" y="697.2" font-size="26.8" textLength="11.3" lengthAdjust="spacingAndGlyphs">7</text>
<text x="1530.5" y="697.2" font-size="26.8" textLength="22.5" lengthAdjust="spacingAndGlyphs">88</text>
<text x="1592.7" y="697.2" font-size="26.8" textLength="33.8" lengthAdjust="spacingAndGlyphs">220</text>
<text x="1665.4" y="697.2" font-size="26.8" textLength="22.5" lengthAdjust="spacingAndGlyphs">65</text>
<text x="1696.4" y="697.2" textLength="34.6" lengthAdjust="spacingAndGlyphs">Sc.</text>
<text x="126.1" y="763.8" font-size="26.8" textLength="56.4" lengthAdjust="spacingAndGlyphs">72895</text>
<text x="211.5" y="763.8" textLength="113.8" lengthAdjust="spacingAndGlyphs">Albatross</text>
<text x="332.5" y="763.8" text-anchor="middle" textLength="6.9" lengthAdjust="spacingAndGlyphs">.</text>
<text x="385.0" y="763.8" text-anchor="middle" textLength="6.9" lengthAdjust="spacingAndGlyphs">.</text>
<text x="467.0" y="764.8" text-anchor="middle" textLength="6.9" lengthAdjust="spacingAndGlyphs">.</text>
<text x="479.0" y="764.8" text-anchor="middle" textLength="6.9" lengthAdjust="spacingAndGlyphs">.</text>
<text x="560.0" y="765.8" textLength="117.7" lengthAdjust="spacingAndGlyphs">Shanghai,</text>
<text x="686.2" y="765.8" font-size="26.8" textLength="45.1" lengthAdjust="spacingAndGlyphs">1901</text>
<text x="746.5" y="765.8" text-anchor="middle" textLength="6.9" lengthAdjust="spacingAndGlyphs">.</text>
<text x="800.0" y="765.8" text-anchor="middle" textLength="6.9" lengthAdjust="spacingAndGlyphs">.</text>
<text x="835.0" y="765.8" textLength="64.6" lengthAdjust="spacingAndGlyphs">Hong</text>
<text x="908.1" y="765.8" textLength="64.6" lengthAdjust="spacingAndGlyphs">Kong</text>
<text x="990.0" y="765.8" text-anchor="middle" textLength="6.9" lengthAdjust="spacingAndGlyphs">.</text>
<text x="1075.0" y="764.9" font-size="26.8" textLength="45.1" lengthAdjust="spacingAndGlyphs">1900</text>
<text x="1145.6" y="764.9" textLength="70.8" lengthAdjust="spacingAndGlyphs">Wood</text>
<text x="1256.5" y="764.0" font-size="26.8" textLength="22.5" lengthAdjust="spacingAndGlyphs">67</text>
<text x="1301.2" y="764.0" font-size="26.8" textLength="11.3" lengthAdjust="spacingAndGlyphs">0</text>
<text x="1340.0" y="764.0" font-size="26.8" textLength="22.5" lengthAdjust="spacingAndGlyphs">14</text>
<text x="1384.7" y="764.0" font-size="26.8" textLength="11.3" lengthAdjust="spacingAndGlyphs">0</text>
<text x="1433.7" y="764.0" font-size="26.8" textLength="11.3" lengthAdjust="spacingAndGlyphs">5</text>
<text x="1468.7" y="764.0" font-size="26.8" textLength="11.3" lengthAdjust="spacingAndGlyphs">2</text>
<text x="1530.5" y="764.0" font-size="26.8" textLength="22.5" lengthAdjust="spacingAndGlyphs">26</text>
<text x="1604.0" y="764.0" font-size="26.8" textLength="22.5" lengthAdjust="spacingAndGlyphs">38</text>
<text x="1665.4" y="764.0" font-size="26.8" textLength="22.5" lengthAdjust="spacingAndGlyphs">15</text>
<text x="1696.4" y="764.0" textLength="34.6" lengthAdjust="spacingAndGlyphs">Sc.</text>
<text x="114.9" y="785.5" font-size="26.8" textLength="67.6" lengthAdjust="spacingAndGlyphs">128072</text>
<text x="211.5" y="785.5" font-style="italic" textLength="102.0" lengthAdjust="spacingAndGlyphs">Albatross</text>
<text x="332.5" y="785.5" text-anchor="middle" textLength="6.9" lengthAdjust="spacingAndGlyphs">.</text>
<text x="385.0" y="785.5" text-anchor="middle" textLength="6.9" lengthAdjust="spacingAndGlyphs">.</text>
<text x="467.0" y="786.8" text-anchor="middle" textLength="6.9" lengthAdjust="spacingAndGlyphs">.</text>
<text x="479.0" y="786.8" text-anchor="middle" textLength="6.9" lengthAdjust="spacingAndGlyphs">.</text>
<text x="560.0" y="788.0" textLength="128.4" lengthAdjust="spacingAndGlyphs">Shoreham,</text>
<text x="696.9" y="788.0" font-size="26.8" textLength="45.1" lengthAdjust="spacingAndGlyphs">1909</text>
<text x="800.0" y="788.0" text-anchor="middle" textLength="6.9" lengthAdjust="spacingAndGlyphs">.</text>
<text x="835.0" y="788.0" textLength="133.9" lengthAdjust="spacingAndGlyphs">Southwick,</text>
<text x="977.6" y="788.0" textLength="79.9" lengthAdjust="spacingAndGlyphs">Sussex</text>
<text x="1075.0" y="787.2" font-size="26.8" textLength="45.1" lengthAdjust="spacingAndGlyphs">1908</text>
<text x="1145.6" y="787.2" textLength="70.8" lengthAdjust="spacingAndGlyphs">Wood</text>
<text x="1256.5" y="786.4" font-size="26.8" textLength="22.5" lengthAdjust="spacingAndGlyphs">20</text>
<text x="1301.2" y="786.4" font-size="26.8" textLength="11.3" lengthAdjust="spacingAndGlyphs">0</text>
<text x="1351.2" y="786.4" font-size="26.8" textLength="11.3" lengthAdjust="spacingAndGlyphs">6</text>
<text x="1384.7" y="786.4" font-size="26.8" textLength="11.3" lengthAdjust="spacingAndGlyphs">6</text>
<text x="1433.7" y="786.4" font-size="26.8" textLength="11.3" lengthAdjust="spacingAndGlyphs">2</text>
<text x="1468.7" y="786.4" font-size="26.8" textLength="11.3" lengthAdjust="spacingAndGlyphs">6</text>
<text x="1541.7" y="786.4" font-size="26.8" textLength="11.3" lengthAdjust="spacingAndGlyphs">2</text>
<text x="1615.2" y="786.4" font-size="26.8" textLength="11.3" lengthAdjust="spacingAndGlyphs">2</text>
<text x="1665.4" y="786.4" font-size="26.8" textLength="22.5" lengthAdjust="spacingAndGlyphs">11</text>
<text x="1696.4" y="786.4" textLength="34.6" lengthAdjust="spacingAndGlyphs">Sc.</text>
<text x="126.1" y="831.4" font-size="26.8" textLength="56.4" lengthAdjust="spacingAndGlyphs">82978</text>
<text x="211.5" y="831.4" textLength="113.8" lengthAdjust="spacingAndGlyphs">Albatross</text>
<text x="332.5" y="831.4" text-anchor="middle" textLength="6.9" lengthAdjust="spacingAndGlyphs">.</text>
<text x="385.0" y="831.4" text-anchor="middle" textLength="6.9" lengthAdjust="spacingAndGlyphs">.</text>
<text x="467.0" y="832.0" text-anchor="middle" textLength="6.9" lengthAdjust="spacingAndGlyphs">.</text>
<text x="479.0" y="832.0" text-anchor="middle" textLength="6.9" lengthAdjust="spacingAndGlyphs">.</text>
<text x="560.0" y="832.7" textLength="130.0" lengthAdjust="spacingAndGlyphs">Yarmouth,</text>
<text x="698.5" y="832.7" font-size="26.8" textLength="45.1" lengthAdjust="spacingAndGlyphs">1912</text>
<text x="800.0" y="832.7" text-anchor="middle" textLength="6.9" lengthAdjust="spacingAndGlyphs">.</text>
<text x="835.0" y="832.7" textLength="92.3" lengthAdjust="spacingAndGlyphs">Milford</text>
<text x="936.5" y="832.7" text-anchor="middle" textLength="6.9" lengthAdjust="spacingAndGlyphs">.</text>
<text x="990.0" y="832.7" text-anchor="middle" textLength="6.9" lengthAdjust="spacingAndGlyphs">.</text>
<text x="1041.5" y="832.7" text-anchor="middle" textLength="6.9" lengthAdjust="spacingAndGlyphs">.</text>
<text x="1075.0" y="831.8" font-size="26.8" textLength="45.1" lengthAdjust="spacingAndGlyphs">1884</text>
<text x="1154.8" y="831.8" textLength="52.3" lengthAdjust="spacingAndGlyphs">Iron</text>
<text x="1256.5" y="830.8" font-size="26.8" textLength="22.5" lengthAdjust="spacingAndGlyphs">88</text>
<text x="1301.2" y="830.8" font-size="26.8" textLength="11.3" lengthAdjust="spacingAndGlyphs">8</text>
<text x="1340.0" y="830.8" font-size="26.8" textLength="22.5" lengthAdjust="spacingAndGlyphs">20</text>
<text x="1384.7" y="830.8" font-size="26.8" textLength="11.3" lengthAdjust="spacingAndGlyphs">1</text>
<text x="1422.5" y="830.8" font-size="26.8" textLength="22.5" lengthAdjust="spacingAndGlyphs">10</text>
<text x="1468.7" y="830.8" font-size="26.8" textLength="11.3" lengthAdjust="spacingAndGlyphs">6</text>
<text x="1530.5" y="830.8" font-size="26.8" textLength="22.5" lengthAdjust="spacingAndGlyphs">45</text>
<text x="1592.7" y="830.8" font-size="26.8" textLength="33.8" lengthAdjust="spacingAndGlyphs">105</text>
<text x="1665.4" y="830.8" font-size="26.8" textLength="22.5" lengthAdjust="spacingAndGlyphs">25</text>
<text x="1696.4" y="830.8" textLength="34.6" lengthAdjust="spacingAndGlyphs">Sc.</text>
<text x="114.9" y="897.7" font-size="26.8" textLength="67.6" lengthAdjust="spacingAndGlyphs">128328</text>
<text x="205.0" y="897.7" text-anchor="middle" font-size="21">*</text>
<text x="211.5" y="897.7" font-style="italic" textLength="102.0" lengthAdjust="spacingAndGlyphs">Albatross</text>
<text x="322.0" y="897.7" font-style="italic" textLength="16.8" lengthAdjust="spacingAndGlyphs">I.</text>
<text x="385.0" y="897.7" text-anchor="middle" textLength="6.9" lengthAdjust="spacingAndGlyphs">.</text>
<text x="467.0" y="898.6" text-anchor="middle" textLength="6.9" lengthAdjust="spacingAndGlyphs">.</text>
<text x="479.0" y="898.6" text-anchor="middle" textLength="6.9" lengthAdjust="spacingAndGlyphs">.</text>
<text x="560.0" y="899.5" textLength="134.6" lengthAdjust="spacingAndGlyphs">Townsville,</text>
<text x="703.1" y="899.5" font-size="26.8" textLength="45.1" lengthAdjust="spacingAndGlyphs">1914</text>
<text x="800.0" y="899.5" text-anchor="middle" textLength="6.9" lengthAdjust="spacingAndGlyphs">.</text>
<text x="835.0" y="899.5" textLength="127.7" lengthAdjust="spacingAndGlyphs">Townsville</text>
<text x="990.0" y="899.5" text-anchor="middle" textLength="6.9" lengthAdjust="spacingAndGlyphs">.</text>
<text x="1041.5" y="899.5" text-anchor="middle" textLength="6.9" lengthAdjust="spacingAndGlyphs">.</text>
<text x="1075.0" y="898.7" font-size="26.8" textLength="45.1" lengthAdjust="spacingAndGlyphs">1913</text>
<text x="1145.6" y="898.7" textLength="70.8" lengthAdjust="spacingAndGlyphs">Wood</text>
<text x="1256.5" y="897.9" font-size="26.8" textLength="22.5" lengthAdjust="spacingAndGlyphs">52</text>
<text x="1301.2" y="897.9" font-size="26.8" textLength="11.3" lengthAdjust="spacingAndGlyphs">7</text>
<text x="1340.0" y="897.9" font-size="26.8" textLength="22.5" lengthAdjust="spacingAndGlyphs">15</text>
<text x="1384.7" y="897.9" font-size="26.8" textLength="11.3" lengthAdjust="spacingAndGlyphs">0</text>
<text x="1433.7" y="897.9" font-size="26.8" textLength="11.3" lengthAdjust="spacingAndGlyphs">4</text>
<text x="1468.7" y="897.9" font-size="26.8" textLength="11.3" lengthAdjust="spacingAndGlyphs">7</text>
<text x="1530.5" y="897.9" font-size="26.8" textLength="22.5" lengthAdjust="spacingAndGlyphs">22</text>
<text x="1604.0" y="897.9" font-size="26.8" textLength="22.5" lengthAdjust="spacingAndGlyphs">25</text>
<text x="1665.4" y="897.9" font-size="26.8" textLength="22.5" lengthAdjust="spacingAndGlyphs">24</text>
<text x="1696.4" y="897.9" textLength="34.6" lengthAdjust="spacingAndGlyphs">Sc.</text>
<text x="114.9" y="920.7" font-size="26.8" textLength="67.6" lengthAdjust="spacingAndGlyphs">126886</text>
<text x="211.5" y="920.7" textLength="121.5" lengthAdjust="spacingAndGlyphs">Alberdyce</text>
<text x="385.0" y="920.7" text-anchor="middle" textLength="6.9" lengthAdjust="spacingAndGlyphs">.</text>
<text x="467.0" y="921.0" text-anchor="middle" textLength="6.9" lengthAdjust="spacingAndGlyphs">.</text>
<text x="479.0" y="921.0" text-anchor="middle" textLength="6.9" lengthAdjust="spacingAndGlyphs">.</text>
<text x="560.0" y="921.4" textLength="136.1" lengthAdjust="spacingAndGlyphs">Vancouver,</text>
<text x="704.6" y="921.4" textLength="59.2" lengthAdjust="spacingAndGlyphs">B.C.,</text>
<text x="763.8" y="921.4" font-size="26.8" textLength="45.1" lengthAdjust="spacingAndGlyphs">1910</text>
<text x="835.0" y="921.4" textLength="136.1" lengthAdjust="spacingAndGlyphs">Vancouver,</text>
<text x="979.6" y="921.4" textLength="52.3" lengthAdjust="spacingAndGlyphs">B.C.</text>
<text x="1041.5" y="921.4" text-anchor="middle" textLength="6.9" lengthAdjust="spacingAndGlyphs">.</text>
<text x="1075.0" y="920.8" font-size="26.8" textLength="45.1" lengthAdjust="spacingAndGlyphs">1910</text>
<text x="1145.6" y="920.8" textLength="70.8" lengthAdjust="spacingAndGlyphs">Wood</text>
<text x="1256.5" y="920.1" font-size="26.8" textLength="22.5" lengthAdjust="spacingAndGlyphs">50</text>
<text x="1301.2" y="920.1" font-size="26.8" textLength="11.3" lengthAdjust="spacingAndGlyphs">0</text>
<text x="1340.0" y="920.1" font-size="26.8" textLength="22.5" lengthAdjust="spacingAndGlyphs">12</text>
<text x="1384.7" y="920.1" font-size="26.8" textLength="11.3" lengthAdjust="spacingAndGlyphs">0</text>
<text x="1433.7" y="920.1" font-size="26.8" textLength="11.3" lengthAdjust="spacingAndGlyphs">6</text>
<text x="1468.7" y="920.1" font-size="26.8" textLength="11.3" lengthAdjust="spacingAndGlyphs">1</text>
<text x="1530.5" y="920.1" font-size="26.8" textLength="22.5" lengthAdjust="spacingAndGlyphs">21</text>
<text x="1604.0" y="920.1" font-size="26.8" textLength="22.5" lengthAdjust="spacingAndGlyphs">30</text>
<text x="1676.6" y="920.1" font-size="26.8" textLength="11.3" lengthAdjust="spacingAndGlyphs">2</text>
<text x="1696.4" y="920.1" textLength="34.6" lengthAdjust="spacingAndGlyphs">Sc.</text>
<text x="114.9" y="943.6" font-size="26.8" textLength="67.6" lengthAdjust="spacingAndGlyphs">132091</text>
<text x="211.5" y="943.6" textLength="89.2" lengthAdjust="spacingAndGlyphs">Alberia</text>
<text x="332.5" y="943.6" text-anchor="middle" textLength="6.9" lengthAdjust="spacingAndGlyphs">.</text>
<text x="385.0" y="943.6" text-anchor="middle" textLength="6.9" lengthAdjust="spacingAndGlyphs">.</text>
<text x="467.0" y="943.6" text-anchor="middle" textLength="6.9" lengthAdjust="spacingAndGlyphs">.</text>
<text x="479.0" y="943.6" text-anchor="middle" textLength="6.9" lengthAdjust="spacingAndGlyphs">.</text>
<text x="560.0" y="943.6" textLength="111.5" lengthAdjust="spacingAndGlyphs">Grimsby,</text>
<text x="680.0" y="943.6" font-size="26.8" textLength="45.1" lengthAdjust="spacingAndGlyphs">1910</text>
<text x="746.5" y="943.6" text-anchor="middle" textLength="6.9" lengthAdjust="spacingAndGlyphs">.</text>
<text x="800.0" y="943.6" text-anchor="middle" textLength="6.9" lengthAdjust="spacingAndGlyphs">.</text>
<text x="835.0" y="943.6" textLength="64.6" lengthAdjust="spacingAndGlyphs">Selby</text>
<text x="936.5" y="943.6" text-anchor="middle" textLength="6.9" lengthAdjust="spacingAndGlyphs">.</text>
<text x="990.0" y="943.6" text-anchor="middle" textLength="6.9" lengthAdjust="spacingAndGlyphs">.</text>
<text x="1041.5" y="943.6" text-anchor="middle" textLength="6.9" lengthAdjust="spacingAndGlyphs">.</text>
<text x="1075.0" y="942.8" font-size="26.8" textLength="45.1" lengthAdjust="spacingAndGlyphs">1910</text>
<text x="1152.6" y="942.8" textLength="56.9" lengthAdjust="spacingAndGlyphs">Steel</text>
<text x="1245.2" y="942.0" font-size="26.8" textLength="33.8" lengthAdjust="spacingAndGlyphs">130</text>
<text x="1301.2" y="942.0" font-size="26.8" textLength="11.3" lengthAdjust="spacingAndGlyphs">2</text>
<text x="1340.0" y="942.0" font-size="26.8" textLength="22.5" lengthAdjust="spacingAndGlyphs">23</text>
<text x="1384.7" y="942.0" font-size="26.8" textLength="11.3" lengthAdjust="spacingAndGlyphs">5</text>
<text x="1422.5" y="942.0" font-size="26.8" textLength="22.5" lengthAdjust="spacingAndGlyphs">12</text>
<text x="1468.7" y="942.0" font-size="26.8" textLength="11.3" lengthAdjust="spacingAndGlyphs">3</text>
<text x="1519.2" y="942.0" font-size="26.8" textLength="33.8" lengthAdjust="spacingAndGlyphs">112</text>
<text x="1592.7" y="942.0" font-size="26.8" textLength="33.8" lengthAdjust="spacingAndGlyphs">286</text>
<text x="1665.4" y="942.0" font-size="26.8" textLength="22.5" lengthAdjust="spacingAndGlyphs">91</text>
<text x="1696.4" y="942.0" textLength="34.6" lengthAdjust="spacingAndGlyphs">Sc.</text>
<text x="126.1" y="1010.0" font-size="26.8" textLength="56.4" lengthAdjust="spacingAndGlyphs">71787</text>
<text x="211.5" y="1010.0" textLength="76.9" lengthAdjust="spacingAndGlyphs">Albert</text>
<text x="332.5" y="1010.0" text-anchor="middle" textLength="6.9" lengthAdjust="spacingAndGlyphs">.</text>
<text x="385.0" y="1010.0" text-anchor="middle" textLength="6.9" lengthAdjust="spacingAndGlyphs">.</text>
<text x="467.0" y="1010.6" text-anchor="middle" textLength="6.9" lengthAdjust="spacingAndGlyphs">.</text>
<text x="479.0" y="1010.6" text-anchor="middle" textLength="6.9" lengthAdjust="spacingAndGlyphs">.</text>
<text x="560.0" y="1011.2" textLength="113.1" lengthAdjust="spacingAndGlyphs">Brisbane,</text>
<text x="681.6" y="1011.2" font-size="26.8" textLength="45.1" lengthAdjust="spacingAndGlyphs">1877</text>
<text x="746.5" y="1011.2" text-anchor="middle" textLength="6.9" lengthAdjust="spacingAndGlyphs">.</text>
<text x="800.0" y="1011.2" text-anchor="middle" textLength="6.9" lengthAdjust="spacingAndGlyphs">.</text>
<text x="835.0" y="1011.2" textLength="106.1" lengthAdjust="spacingAndGlyphs">Brisbane</text>
<text x="990.0" y="1011.2" text-anchor="middle" textLength="6.9" lengthAdjust="spacingAndGlyphs">.</text>
<text x="1041.5" y="1011.2" text-anchor="middle" textLength="6.9" lengthAdjust="spacingAndGlyphs">.</text>
<text x="1075.0" y="1009.4" font-size="26.8" textLength="45.1" lengthAdjust="spacingAndGlyphs">1873</text>
<text x="1145.6" y="1009.4" textLength="70.8" lengthAdjust="spacingAndGlyphs">Wood</text>
<text x="1256.5" y="1007.6" font-size="26.8" textLength="22.5" lengthAdjust="spacingAndGlyphs">44</text>
<text x="1301.2" y="1007.6" font-size="26.8" textLength="11.3" lengthAdjust="spacingAndGlyphs">5</text>
<text x="1340.0" y="1007.6" font-size="26.8" textLength="22.5" lengthAdjust="spacingAndGlyphs">11</text>
<text x="1384.7" y="1007.6" font-size="26.8" textLength="11.3" lengthAdjust="spacingAndGlyphs">0</text>
<text x="1433.7" y="1007.6" font-size="26.8" textLength="11.3" lengthAdjust="spacingAndGlyphs">4</text>
<text x="1468.7" y="1007.6" font-size="26.8" textLength="11.3" lengthAdjust="spacingAndGlyphs">0</text>
<text x="1541.7" y="1007.6" font-size="26.8" textLength="11.3" lengthAdjust="spacingAndGlyphs">9</text>
<text x="1604.0" y="1007.6" font-size="26.8" textLength="22.5" lengthAdjust="spacingAndGlyphs">13</text>
<text x="1673.6" y="1007.6" font-size="26.8" textLength="11.3" lengthAdjust="spacingAndGlyphs">7</text>
<text x="1693.3" y="1007.6" textLength="37.7" lengthAdjust="spacingAndGlyphs">Pa.</text>
<text x="126.1" y="1032.4" font-size="26.8" textLength="56.4" lengthAdjust="spacingAndGlyphs">81152</text>
<text x="211.5" y="1032.4" textLength="76.9" lengthAdjust="spacingAndGlyphs">Albert</text>
<text x="332.5" y="1032.4" text-anchor="middle" textLength="6.9" lengthAdjust="spacingAndGlyphs">.</text>
<text x="385.0" y="1032.4" text-anchor="middle" textLength="6.9" lengthAdjust="spacingAndGlyphs">.</text>
<text x="467.0" y="1033.3" text-anchor="middle" textLength="6.9" lengthAdjust="spacingAndGlyphs">.</text>
<text x="479.0" y="1033.3" text-anchor="middle" textLength="6.9" lengthAdjust="spacingAndGlyphs">.</text>
<text x="560.0" y="1034.2" textLength="99.2" lengthAdjust="spacingAndGlyphs">Chester,</text>
<text x="667.7" y="1034.2" font-size="26.8" textLength="45.1" lengthAdjust="spacingAndGlyphs">1881</text>
<text x="746.5" y="1034.2" text-anchor="middle" textLength="6.9" lengthAdjust="spacingAndGlyphs">.</text>
<text x="800.0" y="1034.2" text-anchor="middle" textLength="6.9" lengthAdjust="spacingAndGlyphs">.</text>
<text x="835.0" y="1034.2" textLength="77.6" lengthAdjust="spacingAndGlyphs">Feock,</text>
<text x="921.1" y="1034.2" textLength="110.7" lengthAdjust="spacingAndGlyphs">Cornwall</text>
<text x="1041.5" y="1034.2" text-anchor="middle" textLength="6.9" lengthAdjust="spacingAndGlyphs">.</text>
<text x="1075.0" y="1032.4" font-size="26.8" textLength="45.1" lengthAdjust="spacingAndGlyphs">1879</text>
<text x="1145.6" y="1032.4" textLength="70.8" lengthAdjust="spacingAndGlyphs">Wood</text>
<text x="1256.5" y="1030.6" font-size="26.8" textLength="22.5" lengthAdjust="spacingAndGlyphs">71</text>
<text x="1301.2" y="1030.6" font-size="26.8" textLength="11.3" lengthAdjust="spacingAndGlyphs">5</text>
<text x="1340.0" y="1030.6" font-size="26.8" textLength="22.5" lengthAdjust="spacingAndGlyphs">14</text>
<text x="1384.7" y="1030.6" font-size="26.8" textLength="11.3" lengthAdjust="spacingAndGlyphs">7</text>
<text x="1433.7" y="1030.6" font-size="26.8" textLength="11.3" lengthAdjust="spacingAndGlyphs">7</text>
<text x="1468.7" y="1030.6" font-size="26.8" textLength="11.3" lengthAdjust="spacingAndGlyphs">4</text>
<text x="1530.5" y="1030.6" font-size="26.8" textLength="22.5" lengthAdjust="spacingAndGlyphs">27</text>
<text x="1604.0" y="1030.6" font-size="26.8" textLength="22.5" lengthAdjust="spacingAndGlyphs">40</text>
<text x="1665.4" y="1030.6" font-size="26.8" textLength="22.5" lengthAdjust="spacingAndGlyphs">30</text>
<text x="1696.4" y="1030.6" textLength="34.6" lengthAdjust="spacingAndGlyphs">Sc.</text>
<text x="126.1" y="1076.9" font-size="26.8" textLength="56.4" lengthAdjust="spacingAndGlyphs">84451</text>
<text x="211.5" y="1076.9" textLength="76.9" lengthAdjust="spacingAndGlyphs">Albert</text>
<text x="332.5" y="1076.9" text-anchor="middle" textLength="6.9" lengthAdjust="spacingAndGlyphs">.</text>
<text x="385.0" y="1076.9" text-anchor="middle" textLength="6.9" lengthAdjust="spacingAndGlyphs">.</text>
<text x="467.0" y="1077.5" text-anchor="middle" textLength="6.9" lengthAdjust="spacingAndGlyphs">.</text>
<text x="479.0" y="1077.5" text-anchor="middle" textLength="6.9" lengthAdjust="spacingAndGlyphs">.</text>
<text x="560.0" y="1078.2" textLength="61.5" lengthAdjust="spacingAndGlyphs">Cork</text>
<text x="638.5" y="1078.2" font-size="26.8" textLength="45.1" lengthAdjust="spacingAndGlyphs">1881</text>
<text x="746.5" y="1078.2" text-anchor="middle" textLength="6.9" lengthAdjust="spacingAndGlyphs">.</text>
<text x="800.0" y="1078.2" text-anchor="middle" textLength="6.9" lengthAdjust="spacingAndGlyphs">.</text>
<text x="835.0" y="1078.2" textLength="81.5" lengthAdjust="spacingAndGlyphs">Belfast</text>
<text x="936.5" y="1078.2" text-anchor="middle" textLength="6.9" lengthAdjust="spacingAndGlyphs">.</text>
<text x="990.0" y="1078.2" text-anchor="middle" textLength="6.9" lengthAdjust="spacingAndGlyphs">.</text>
<text x="1041.5" y="1078.2" text-anchor="middle" textLength="6.9" lengthAdjust="spacingAndGlyphs">.</text>
<text x="1075.0" y="1076.7" font-size="26.8" textLength="45.1" lengthAdjust="spacingAndGlyphs">1881</text>
<text x="1154.8" y="1076.7" textLength="52.3" lengthAdjust="spacingAndGlyphs">Iron</text>
<text x="1245.2" y="1075.2" font-size="26.8" textLength="33.8" lengthAdjust="spacingAndGlyphs">140</text>
<text x="1301.2" y="1075.2" font-size="26.8" textLength="11.3" lengthAdjust="spacingAndGlyphs">5</text>
<text x="1340.0" y="1075.2" font-size="26.8" textLength="22.5" lengthAdjust="spacingAndGlyphs">15</text>
<text x="1384.7" y="1075.2" font-size="26.8" textLength="11.3" lengthAdjust="spacingAndGlyphs">5</text>
<text x="1433.7" y="1075.2" font-size="26.8" textLength="11.3" lengthAdjust="spacingAndGlyphs">7</text>
<text x="1468.7" y="1075.2" font-size="26.8" textLength="11.3" lengthAdjust="spacingAndGlyphs">8</text>
<text x="1530.5" y="1075.2" font-size="26.8" textLength="22.5" lengthAdjust="spacingAndGlyphs">54</text>
<text x="1604.0" y="1075.2" font-size="26.8" textLength="22.5" lengthAdjust="spacingAndGlyphs">92</text>
<text x="1662.3" y="1075.2" font-size="26.8" textLength="22.5" lengthAdjust="spacingAndGlyphs">42</text>
<text x="1693.3" y="1075.2" textLength="37.7" lengthAdjust="spacingAndGlyphs">Pa.</text>
<text x="126.1" y="1143.8" font-size="26.8" textLength="56.4" lengthAdjust="spacingAndGlyphs">93326</text>
<text x="211.5" y="1143.8" textLength="76.9" lengthAdjust="spacingAndGlyphs">Albert</text>
<text x="332.5" y="1143.8" text-anchor="middle" textLength="6.9" lengthAdjust="spacingAndGlyphs">.</text>
<text x="385.0" y="1143.8" text-anchor="middle" textLength="6.9" lengthAdjust="spacingAndGlyphs">.</text>
<text x="467.0" y="1144.8" text-anchor="middle" textLength="6.9" lengthAdjust="spacingAndGlyphs">.</text>
<text x="479.0" y="1144.8" text-anchor="middle" textLength="6.9" lengthAdjust="spacingAndGlyphs">.</text>
<text x="560.0" y="1145.8" textLength="108.4" lengthAdjust="spacingAndGlyphs">Glasgow,</text>
<text x="676.9" y="1145.8" font-size="26.8" textLength="45.1" lengthAdjust="spacingAndGlyphs">1886</text>
<text x="746.5" y="1145.8" text-anchor="middle" textLength="6.9" lengthAdjust="spacingAndGlyphs">.</text>
<text x="800.0" y="1145.8" text-anchor="middle" textLength="6.9" lengthAdjust="spacingAndGlyphs">.</text>
<text x="835.0" y="1145.8" textLength="153.8" lengthAdjust="spacingAndGlyphs">Kirkintilloch</text>
<text x="1041.5" y="1145.8" text-anchor="middle" textLength="6.9" lengthAdjust="spacingAndGlyphs">.</text>
<text x="1075.0" y="1144.0" font-size="26.8" textLength="45.1" lengthAdjust="spacingAndGlyphs">1886</text>
<text x="1154.8" y="1144.0" textLength="52.3" lengthAdjust="spacingAndGlyphs">Iron</text>
<text x="1256.5" y="1142.3" font-size="26.8" textLength="22.5" lengthAdjust="spacingAndGlyphs">66</text>
<text x="1301.2" y="1142.3" font-size="26.8" textLength="11.3" lengthAdjust="spacingAndGlyphs">0</text>
<text x="1340.0" y="1142.3" font-size="26.8" textLength="22.5" lengthAdjust="spacingAndGlyphs">16</text>
<text x="1384.7" y="1142.3" font-size="26.8" textLength="11.3" lengthAdjust="spacingAndGlyphs">4</text>
<text x="1433.7" y="1142.3" font-size="26.8" textLength="11.3" lengthAdjust="spacingAndGlyphs">6</text>
<text x="1468.7" y="1142.3" font-size="26.8" textLength="11.3" lengthAdjust="spacingAndGlyphs">2</text>
<text x="1530.5" y="1142.3" font-size="26.8" textLength="22.5" lengthAdjust="spacingAndGlyphs">28</text>
<text x="1604.0" y="1142.3" font-size="26.8" textLength="22.5" lengthAdjust="spacingAndGlyphs">49</text>
<text x="1665.4" y="1142.3" font-size="26.8" textLength="22.5" lengthAdjust="spacingAndGlyphs">16</text>
<text x="1696.4" y="1142.3" textLength="34.6" lengthAdjust="spacingAndGlyphs">Sc.</text>
<text x="126.1" y="1189.2" font-size="26.8" textLength="56.4" lengthAdjust="spacingAndGlyphs">76370</text>
<text x="205.0" y="1189.2" text-anchor="middle" font-size="21">*</text>
<text x="211.5" y="1189.2" textLength="76.9" lengthAdjust="spacingAndGlyphs">Albert</text>
<text x="332.5" y="1189.2" text-anchor="middle" textLength="6.9" lengthAdjust="spacingAndGlyphs">.</text>
<text x="385.0" y="1189.2" text-anchor="middle" textLength="6.9" lengthAdjust="spacingAndGlyphs">.</text>
<text x="467.0" y="1189.8" text-anchor="middle" textLength="6.9" lengthAdjust="spacingAndGlyphs">.</text>
<text x="479.0" y="1189.8" text-anchor="middle" textLength="6.9" lengthAdjust="spacingAndGlyphs">.</text>
<text x="560.0" y="1190.3" textLength="122.3" lengthAdjust="spacingAndGlyphs">Liverpool,</text>
<text x="690.8" y="1190.3" font-size="26.8" textLength="45.1" lengthAdjust="spacingAndGlyphs">1904</text>
<text x="800.0" y="1190.3" text-anchor="middle" textLength="6.9" lengthAdjust="spacingAndGlyphs">.</text>
<text x="835.0" y="1190.3" textLength="115.3" lengthAdjust="spacingAndGlyphs">Liverpool</text>
<text x="990.0" y="1190.3" text-anchor="middle" textLength="6.9" lengthAdjust="spacingAndGlyphs">.</text>
<text x="1041.5" y="1190.3" text-anchor="middle" textLength="6.9" lengthAdjust="spacingAndGlyphs">.</text>
<text x="1075.0" y="1188.6" font-size="26.8" textLength="45.1" lengthAdjust="spacingAndGlyphs">1840</text>
<text x="1145.6" y="1188.6" textLength="70.8" lengthAdjust="spacingAndGlyphs">Wood</text>
<text x="1256.5" y="1186.9" font-size="26.8" textLength="22.5" lengthAdjust="spacingAndGlyphs">74</text>
<text x="1301.2" y="1186.9" font-size="26.8" textLength="11.3" lengthAdjust="spacingAndGlyphs">5</text>
<text x="1340.0" y="1186.9" font-size="26.8" textLength="22.5" lengthAdjust="spacingAndGlyphs">17</text>
<text x="1384.7" y="1186.9" font-size="26.8" textLength="11.3" lengthAdjust="spacingAndGlyphs">6</text>
<text x="1438.7" y="1186.9" textLength="9.2" lengthAdjust="spacingAndGlyphs">(</text>
<text x="1447.9" y="1186.9" font-style="italic" textLength="13.1" lengthAdjust="spacingAndGlyphs">a</text>
<text x="1461.1" y="1186.9" textLength="9.2" lengthAdjust="spacingAndGlyphs">)</text>
<text x="1530.5" y="1186.9" font-size="26.8" textLength="22.5" lengthAdjust="spacingAndGlyphs">44</text>
<text x="1604.0" y="1186.9" font-size="26.8" textLength="22.5" lengthAdjust="spacingAndGlyphs">86</text>
<text x="1665.4" y="1186.9" font-size="26.8" textLength="22.5" lengthAdjust="spacingAndGlyphs">17</text>
<text x="1696.4" y="1186.9" textLength="34.6" lengthAdjust="spacingAndGlyphs">Sc.</text>
<text x="114.9" y="1234.3" font-size="26.8" textLength="67.6" lengthAdjust="spacingAndGlyphs">115267</text>
<text x="211.5" y="1234.3" textLength="76.9" lengthAdjust="spacingAndGlyphs">Albert</text>
<text x="332.5" y="1234.3" text-anchor="middle" textLength="6.9" lengthAdjust="spacingAndGlyphs">.</text>
<text x="385.0" y="1234.3" text-anchor="middle" textLength="6.9" lengthAdjust="spacingAndGlyphs">.</text>
<text x="467.0" y="1234.4" text-anchor="middle" textLength="6.9" lengthAdjust="spacingAndGlyphs">.</text>
<text x="479.0" y="1234.4" text-anchor="middle" textLength="6.9" lengthAdjust="spacingAndGlyphs">.</text>
<text x="560.0" y="1234.6" textLength="122.3" lengthAdjust="spacingAndGlyphs">Liverpool,</text>
<text x="690.8" y="1234.6" font-size="26.8" textLength="45.1" lengthAdjust="spacingAndGlyphs">1902</text>
<text x="746.5" y="1234.6" text-anchor="middle" textLength="6.9" lengthAdjust="spacingAndGlyphs">.</text>
<text x="800.0" y="1234.6" text-anchor="middle" textLength="6.9" lengthAdjust="spacingAndGlyphs">.</text>
<text x="835.0" y="1234.6" textLength="119.9" lengthAdjust="spacingAndGlyphs">Tranmere</text>
<text x="990.0" y="1234.6" text-anchor="middle" textLength="6.9" lengthAdjust="spacingAndGlyphs">.</text>
<text x="1041.5" y="1234.6" text-anchor="middle" textLength="6.9" lengthAdjust="spacingAndGlyphs">.</text>
<text x="1075.0" y="1233.1" font-size="26.8" textLength="45.1" lengthAdjust="spacingAndGlyphs">1902</text>
<text x="1152.6" y="1233.1" textLength="56.9" lengthAdjust="spacingAndGlyphs">Steel</text>
<text x="1256.5" y="1231.6" font-size="26.8" textLength="22.5" lengthAdjust="spacingAndGlyphs">92</text>
<text x="1301.2" y="1231.6" font-size="26.8" textLength="11.3" lengthAdjust="spacingAndGlyphs">5</text>
<text x="1340.0" y="1231.6" font-size="26.8" textLength="22.5" lengthAdjust="spacingAndGlyphs">20</text>
<text x="1384.7" y="1231.6" font-size="26.8" textLength="11.3" lengthAdjust="spacingAndGlyphs">1</text>
<text x="1422.5" y="1231.6" font-size="26.8" textLength="22.5" lengthAdjust="spacingAndGlyphs">10</text>
<text x="1468.7" y="1231.6" font-size="26.8" textLength="11.3" lengthAdjust="spacingAndGlyphs">8</text>
<text x="1541.7" y="1231.6" font-size="26.8" textLength="11.3" lengthAdjust="spacingAndGlyphs">5</text>
<text x="1592.7" y="1231.6" font-size="26.8" textLength="33.8" lengthAdjust="spacingAndGlyphs">148</text>
<text x="1665.4" y="1231.6" font-size="26.8" textLength="22.5" lengthAdjust="spacingAndGlyphs">69</text>
<text x="1696.4" y="1231.6" textLength="34.6" lengthAdjust="spacingAndGlyphs">Sc.</text>
<text x="114.9" y="1300.7" font-size="26.8" textLength="67.6" lengthAdjust="spacingAndGlyphs">103103</text>
<text x="211.5" y="1300.7" textLength="76.9" lengthAdjust="spacingAndGlyphs">Albert</text>
<text x="332.5" y="1300.7" text-anchor="middle" textLength="6.9" lengthAdjust="spacingAndGlyphs">.</text>
<text x="385.0" y="1300.7" text-anchor="middle" textLength="6.9" lengthAdjust="spacingAndGlyphs">.</text>
<text x="467.0" y="1301.2" text-anchor="middle" textLength="6.9" lengthAdjust="spacingAndGlyphs">.</text>
<text x="479.0" y="1301.2" text-anchor="middle" textLength="6.9" lengthAdjust="spacingAndGlyphs">.</text>
<text x="560.0" y="1301.7" textLength="117.6" lengthAdjust="spacingAndGlyphs">Montreal,</text>
<text x="686.1" y="1301.7" font-size="26.8" textLength="45.1" lengthAdjust="spacingAndGlyphs">1894</text>
<text x="746.5" y="1301.7" text-anchor="middle" textLength="6.9" lengthAdjust="spacingAndGlyphs">.</text>
<text x="800.0" y="1301.7" text-anchor="middle" textLength="6.9" lengthAdjust="spacingAndGlyphs">.</text>
<text x="835.0" y="1301.7" textLength="224.5" lengthAdjust="spacingAndGlyphs">St.Laurent,Quebec</text>
<text x="1075.0" y="1299.8" font-size="26.8" textLength="45.1" lengthAdjust="spacingAndGlyphs">1890</text>
<text x="1145.6" y="1299.8" textLength="70.8" lengthAdjust="spacingAndGlyphs">Wood</text>
<text x="1256.5" y="1297.9" font-size="26.8" textLength="22.5" lengthAdjust="spacingAndGlyphs">42</text>
<text x="1301.2" y="1297.9" font-size="26.8" textLength="11.3" lengthAdjust="spacingAndGlyphs">0</text>
<text x="1351.2" y="1297.9" font-size="26.8" textLength="11.3" lengthAdjust="spacingAndGlyphs">6</text>
<text x="1384.7" y="1297.9" font-size="26.8" textLength="11.3" lengthAdjust="spacingAndGlyphs">0</text>
<text x="1433.7" y="1297.9" font-size="26.8" textLength="11.3" lengthAdjust="spacingAndGlyphs">2</text>
<text x="1468.7" y="1297.9" font-size="26.8" textLength="11.3" lengthAdjust="spacingAndGlyphs">7</text>
<text x="1541.7" y="1297.9" font-size="26.8" textLength="11.3" lengthAdjust="spacingAndGlyphs">2</text>
<text x="1615.2" y="1297.9" font-size="26.8" textLength="11.3" lengthAdjust="spacingAndGlyphs">3</text>
<text x="1676.6" y="1297.9" font-size="26.8" textLength="11.3" lengthAdjust="spacingAndGlyphs">1</text>
<text x="1696.4" y="1297.9" textLength="34.6" lengthAdjust="spacingAndGlyphs">Sc.</text>
<text x="126.1" y="1346.1" font-size="26.8" textLength="56.4" lengthAdjust="spacingAndGlyphs">96712</text>
<text x="211.5" y="1346.1" textLength="76.9" lengthAdjust="spacingAndGlyphs">Albert</text>
<text x="332.5" y="1346.1" text-anchor="middle" textLength="6.9" lengthAdjust="spacingAndGlyphs">.</text>
<text x="385.0" y="1346.1" text-anchor="middle" textLength="6.9" lengthAdjust="spacingAndGlyphs">.</text>
<text x="467.0" y="1346.5" text-anchor="middle" textLength="6.9" lengthAdjust="spacingAndGlyphs">.</text>
<text x="479.0" y="1346.5" text-anchor="middle" textLength="6.9" lengthAdjust="spacingAndGlyphs">.</text>
<text x="560.0" y="1346.9" textLength="94.6" lengthAdjust="spacingAndGlyphs">Ottawa,</text>
<text x="663.1" y="1346.9" textLength="60.0" lengthAdjust="spacingAndGlyphs">Ont.,</text>
<text x="731.6" y="1346.9" font-size="26.8" textLength="45.1" lengthAdjust="spacingAndGlyphs">1889</text>
<text x="800.0" y="1346.9" text-anchor="middle" textLength="6.9" lengthAdjust="spacingAndGlyphs">.</text>
<text x="835.0" y="1346.9" textLength="96.1" lengthAdjust="spacingAndGlyphs">Aylmer,</text>
<text x="939.6" y="1346.9" textLength="53.1" lengthAdjust="spacingAndGlyphs">Ont.</text>
<text x="1041.5" y="1346.9" text-anchor="middle" textLength="6.9" lengthAdjust="spacingAndGlyphs">.</text>
<text x="1075.0" y="1345.3" font-size="26.8" textLength="45.1" lengthAdjust="spacingAndGlyphs">1888</text>
<text x="1145.6" y="1345.3" textLength="70.8" lengthAdjust="spacingAndGlyphs">Wood</text>
<text x="1245.2" y="1343.7" font-size="26.8" textLength="33.8" lengthAdjust="spacingAndGlyphs">147</text>
<text x="1301.2" y="1343.7" font-size="26.8" textLength="11.3" lengthAdjust="spacingAndGlyphs">5</text>
<text x="1340.0" y="1343.7" font-size="26.8" textLength="22.5" lengthAdjust="spacingAndGlyphs">42</text>
<text x="1384.7" y="1343.7" font-size="26.8" textLength="11.3" lengthAdjust="spacingAndGlyphs">2</text>
<text x="1433.7" y="1343.7" font-size="26.8" textLength="11.3" lengthAdjust="spacingAndGlyphs">7</text>
<text x="1468.7" y="1343.7" font-size="26.8" textLength="11.3" lengthAdjust="spacingAndGlyphs">9</text>
<text x="1519.2" y="1343.7" font-size="26.8" textLength="33.8" lengthAdjust="spacingAndGlyphs">198</text>
<text x="1592.7" y="1343.7" font-size="26.8" textLength="33.8" lengthAdjust="spacingAndGlyphs">269</text>
<text x="1651.0" y="1343.7" font-size="26.8" textLength="33.8" lengthAdjust="spacingAndGlyphs">100</text>
<text x="1693.3" y="1343.7" textLength="37.7" lengthAdjust="spacingAndGlyphs">Pa.</text>
<text x="126.1" y="1368.3" font-size="26.8" textLength="56.4" lengthAdjust="spacingAndGlyphs">86504</text>
<text x="211.5" y="1368.3" textLength="76.9" lengthAdjust="spacingAndGlyphs">Albert</text>
<text x="332.5" y="1368.3" text-anchor="middle" textLength="6.9" lengthAdjust="spacingAndGlyphs">.</text>
<text x="385.0" y="1368.3" text-anchor="middle" textLength="6.9" lengthAdjust="spacingAndGlyphs">.</text>
<text x="467.0" y="1368.8" text-anchor="middle" textLength="6.9" lengthAdjust="spacingAndGlyphs">.</text>
<text x="479.0" y="1368.8" text-anchor="middle" textLength="6.9" lengthAdjust="spacingAndGlyphs">.</text>
<text x="560.0" y="1369.3" textLength="122.3" lengthAdjust="spacingAndGlyphs">Plymouth,</text>
<text x="690.8" y="1369.3" font-size="26.8" textLength="45.1" lengthAdjust="spacingAndGlyphs">1882</text>
<text x="735.9" y="1369.3" textLength="6.9" lengthAdjust="spacingAndGlyphs">.</text>
<text x="800.0" y="1369.3" text-anchor="middle" textLength="6.9" lengthAdjust="spacingAndGlyphs">.</text>
<text x="835.0" y="1369.3" textLength="122.3" lengthAdjust="spacingAndGlyphs">Plymouth,</text>
<text x="990.0" y="1369.3" text-anchor="middle" textLength="6.9" lengthAdjust="spacingAndGlyphs">.</text>
<text x="1041.5" y="1369.3" text-anchor="middle" textLength="6.9" lengthAdjust="spacingAndGlyphs">.</text>
<text x="1075.0" y="1367.5" font-size="26.8" textLength="45.1" lengthAdjust="spacingAndGlyphs">1882</text>
<text x="1154.8" y="1367.5" textLength="52.3" lengthAdjust="spacingAndGlyphs">Iron</text>
<text x="1256.5" y="1365.7" font-size="26.8" textLength="22.5" lengthAdjust="spacingAndGlyphs">84</text>
<text x="1301.2" y="1365.7" font-size="26.8" textLength="11.3" lengthAdjust="spacingAndGlyphs">3</text>
<text x="1340.0" y="1365.7" font-size="26.8" textLength="22.5" lengthAdjust="spacingAndGlyphs">14</text>
<text x="1384.7" y="1365.7" font-size="26.8" textLength="11.3" lengthAdjust="spacingAndGlyphs">0</text>
<text x="1433.7" y="1365.7" font-size="26.8" textLength="11.3" lengthAdjust="spacingAndGlyphs">8</text>
<text x="1468.7" y="1365.7" font-size="26.8" textLength="11.3" lengthAdjust="spacingAndGlyphs">5</text>
<text x="1530.5" y="1365.7" font-size="26.8" textLength="22.5" lengthAdjust="spacingAndGlyphs">30</text>
<text x="1604.0" y="1365.7" font-size="26.8" textLength="22.5" lengthAdjust="spacingAndGlyphs">61</text>
<text x="1665.4" y="1365.7" font-size="26.8" textLength="22.5" lengthAdjust="spacingAndGlyphs">25</text>
<text x="1696.4" y="1365.7" textLength="34.6" lengthAdjust="spacingAndGlyphs">Sc.</text>
<text x="126.1" y="1436.4" font-size="26.8" textLength="56.4" lengthAdjust="spacingAndGlyphs">53377</text>
<text x="211.5" y="1436.4" textLength="76.9" lengthAdjust="spacingAndGlyphs">Albert</text>
<text x="332.5" y="1436.4" text-anchor="middle" textLength="6.9" lengthAdjust="spacingAndGlyphs">.</text>
<text x="385.0" y="1436.4" text-anchor="middle" textLength="6.9" lengthAdjust="spacingAndGlyphs">.</text>
<text x="467.0" y="1436.4" text-anchor="middle" textLength="6.9" lengthAdjust="spacingAndGlyphs">.</text>
<text x="479.0" y="1436.4" text-anchor="middle" textLength="6.9" lengthAdjust="spacingAndGlyphs">.</text>
<text x="560.0" y="1436.4" textLength="59.2" lengthAdjust="spacingAndGlyphs">Hull,</text>
<text x="627.7" y="1436.4" font-size="26.8" textLength="45.1" lengthAdjust="spacingAndGlyphs">1913</text>
<text x="692.5" y="1436.4" text-anchor="middle" textLength="6.9" lengthAdjust="spacingAndGlyphs">.</text>
<text x="746.5" y="1436.4" text-anchor="middle" textLength="6.9" lengthAdjust="spacingAndGlyphs">.</text>
<text x="800.0" y="1436.4" text-anchor="middle" textLength="6.9" lengthAdjust="spacingAndGlyphs">.</text>
<text x="835.0" y="1436.4" textLength="104.6" lengthAdjust="spacingAndGlyphs">Maryhill</text>
<text x="990.0" y="1436.4" text-anchor="middle" textLength="6.9" lengthAdjust="spacingAndGlyphs">.</text>
<text x="1041.5" y="1436.4" text-anchor="middle" textLength="6.9" lengthAdjust="spacingAndGlyphs">.</text>
<text x="1075.0" y="1434.5" font-size="26.8" textLength="45.1" lengthAdjust="spacingAndGlyphs">1865</text>
<text x="1154.8" y="1434.5" textLength="52.3" lengthAdjust="spacingAndGlyphs">Iron</text>
<text x="1256.5" y="1432.7" font-size="26.8" textLength="22.5" lengthAdjust="spacingAndGlyphs">66</text>
<text x="1301.2" y="1432.7" font-size="26.8" textLength="11.3" lengthAdjust="spacingAndGlyphs">0</text>
<text x="1340.0" y="1432.7" font-size="26.8" textLength="22.5" lengthAdjust="spacingAndGlyphs">17</text>
<text x="1384.7" y="1432.7" font-size="26.8" textLength="11.3" lengthAdjust="spacingAndGlyphs">1</text>
<text x="1433.7" y="1432.7" font-size="26.8" textLength="11.3" lengthAdjust="spacingAndGlyphs">6</text>
<text x="1468.7" y="1432.7" font-size="26.8" textLength="11.3" lengthAdjust="spacingAndGlyphs">6</text>
<text x="1530.5" y="1432.7" font-size="26.8" textLength="22.5" lengthAdjust="spacingAndGlyphs">42</text>
<text x="1604.0" y="1432.7" font-size="26.8" textLength="22.5" lengthAdjust="spacingAndGlyphs">52</text>
<text x="1665.4" y="1432.7" font-size="26.8" textLength="22.5" lengthAdjust="spacingAndGlyphs">20</text>
<text x="1696.4" y="1432.7" textLength="34.6" lengthAdjust="spacingAndGlyphs">Sc.</text>
<text x="126.1" y="1480.9" font-size="26.8" textLength="56.4" lengthAdjust="spacingAndGlyphs">96668</text>
<text x="205.0" y="1480.9" text-anchor="middle" font-size="21">*</text>
<text x="211.5" y="1480.9" font-style="italic" textLength="67.0" lengthAdjust="spacingAndGlyphs">Albert</text>
<text x="332.5" y="1480.9" text-anchor="middle" textLength="6.9" lengthAdjust="spacingAndGlyphs">.</text>
<text x="385.0" y="1480.9" text-anchor="middle" textLength="6.9" lengthAdjust="spacingAndGlyphs">.</text>
<text x="415.0" y="1480.5" textLength="107.9" lengthAdjust="spacingAndGlyphs">M.P.N.V</text>
<text x="560.0" y="1480.1" textLength="126.8" lengthAdjust="spacingAndGlyphs">Peterhead,</text>
<text x="695.3" y="1480.1" font-size="26.8" textLength="45.1" lengthAdjust="spacingAndGlyphs">1914</text>
<text x="740.4" y="1480.1" textLength="14.6" lengthAdjust="spacingAndGlyphs">'.</text>
<text x="800.0" y="1480.1" text-anchor="middle" textLength="6.9" lengthAdjust="spacingAndGlyphs">.</text>
<text x="1075.0" y="1479.0" font-size="26.8" textLength="45.1" lengthAdjust="spacingAndGlyphs">1889</text>
<text x="1145.6" y="1479.0" textLength="70.8" lengthAdjust="spacingAndGlyphs">Wood</text>
<text x="1245.2" y="1477.9" font-size="26.8" textLength="33.8" lengthAdjust="spacingAndGlyphs">100</text>
<text x="1301.2" y="1477.9" font-size="26.8" textLength="11.3" lengthAdjust="spacingAndGlyphs">1</text>
<text x="1340.0" y="1477.9" font-size="26.8" textLength="22.5" lengthAdjust="spacingAndGlyphs">25</text>
<text x="1384.7" y="1477.9" font-size="26.8" textLength="11.3" lengthAdjust="spacingAndGlyphs">1</text>
<text x="1422.5" y="1477.9" font-size="26.8" textLength="22.5" lengthAdjust="spacingAndGlyphs">11</text>
<text x="1468.7" y="1477.9" font-size="26.8" textLength="11.3" lengthAdjust="spacingAndGlyphs">7</text>
<text x="1530.5" y="1477.9" font-size="26.8" textLength="22.5" lengthAdjust="spacingAndGlyphs">89</text>
<text x="1592.7" y="1477.9" font-size="26.8" textLength="33.8" lengthAdjust="spacingAndGlyphs">155</text>
<text x="1654.1" y="1477.9" font-size="26.8" textLength="33.8" lengthAdjust="spacingAndGlyphs">120</text>
<text x="1696.4" y="1477.9" textLength="34.6" lengthAdjust="spacingAndGlyphs">Sc.</text>
<text x="114.9" y="1547.9" font-size="26.8" textLength="67.6" lengthAdjust="spacingAndGlyphs">126855</text>
<text x="211.5" y="1547.9" textLength="76.9" lengthAdjust="spacingAndGlyphs">Albert</text>
<text x="296.9" y="1547.9" textLength="26.9" lengthAdjust="spacingAndGlyphs">C.</text>
<text x="332.5" y="1547.9" text-anchor="middle" textLength="6.9" lengthAdjust="spacingAndGlyphs">.</text>
<text x="385.0" y="1547.9" text-anchor="middle" textLength="6.9" lengthAdjust="spacingAndGlyphs">.</text>
<text x="467.0" y="1547.3" text-anchor="middle" textLength="6.9" lengthAdjust="spacingAndGlyphs">.</text>
<text x="479.0" y="1547.3" text-anchor="middle" textLength="6.9" lengthAdjust="spacingAndGlyphs">.</text>
<text x="560.0" y="1546.7" textLength="68.4" lengthAdjust="spacingAndGlyphs">Sorel,</text>
<text x="636.9" y="1546.7" font-size="26.8" textLength="45.1" lengthAdjust="spacingAndGlyphs">1911</text>
<text x="692.5" y="1546.7" text-anchor="middle" textLength="6.9" lengthAdjust="spacingAndGlyphs">.</text>
<text x="746.5" y="1546.7" text-anchor="middle" textLength="6.9" lengthAdjust="spacingAndGlyphs">.</text>
<text x="800.0" y="1546.7" text-anchor="middle" textLength="6.9" lengthAdjust="spacingAndGlyphs">.</text>
<text x="1075.0" y="1546.0" font-size="26.8" textLength="45.1" lengthAdjust="spacingAndGlyphs">1911</text>
<text x="1145.6" y="1546.0" textLength="70.8" lengthAdjust="spacingAndGlyphs">Wood</text>
<text x="1256.5" y="1545.4" font-size="26.8" textLength="22.5" lengthAdjust="spacingAndGlyphs">43</text>
<text x="1301.2" y="1545.4" font-size="26.8" textLength="11.3" lengthAdjust="spacingAndGlyphs">5</text>
<text x="1340.0" y="1545.4" font-size="26.8" textLength="22.5" lengthAdjust="spacingAndGlyphs">12</text>
<text x="1384.7" y="1545.4" font-size="26.8" textLength="11.3" lengthAdjust="spacingAndGlyphs">0</text>
<text x="1433.7" y="1545.4" font-size="26.8" textLength="11.3" lengthAdjust="spacingAndGlyphs">4</text>
<text x="1468.7" y="1545.4" font-size="26.8" textLength="11.3" lengthAdjust="spacingAndGlyphs">2</text>
<text x="1530.5" y="1545.4" font-size="26.8" textLength="22.5" lengthAdjust="spacingAndGlyphs">10</text>
<text x="1604.0" y="1545.4" font-size="26.8" textLength="22.5" lengthAdjust="spacingAndGlyphs">17</text>
<text x="1676.6" y="1545.4" font-size="26.8" textLength="11.3" lengthAdjust="spacingAndGlyphs">3</text>
<text x="1696.4" y="1545.4" textLength="34.6" lengthAdjust="spacingAndGlyphs">Sc.</text>
<text x="833.8" y="1480.1" textLength="134.6" lengthAdjust="spacingAndGlyphs">Southtown,</text>
<text x="1006.1" y="1480.1" textLength="37.7" lengthAdjust="spacingAndGlyphs">Gt.</text>
<text x="857.5" y="1501.9" textLength="130.0" lengthAdjust="spacingAndGlyphs">Yarmouth.</text>
<text x="833.8" y="1546.7" textLength="63.1" lengthAdjust="spacingAndGlyphs">Trois</text>
<text x="918.7" y="1546.7" textLength="103.8" lengthAdjust="spacingAndGlyphs">Rivières,</text>
<text x="946.4" y="1566.6" textLength="96.1" lengthAdjust="spacingAndGlyphs">Quebec.</text>
<text x="1247.5" y="316.6" textLength="27.0" lengthAdjust="spacingAndGlyphs">ft.</text>
<text x="1277.0" y="316.6" font-size="26.8" textLength="22.5" lengthAdjust="spacingAndGlyphs">10</text>
<text x="1300.0" y="316.6" font-size="13" textLength="21.0" lengthAdjust="spacingAndGlyphs">ths</text>
<text x="1331.0" y="316.6" textLength="27.0" lengthAdjust="spacingAndGlyphs">ft.</text>
<text x="1360.5" y="316.6" font-size="26.8" textLength="22.5" lengthAdjust="spacingAndGlyphs">10</text>
<text x="1383.5" y="316.6" font-size="13" textLength="21.0" lengthAdjust="spacingAndGlyphs">ths</text>
<text x="1415.0" y="316.6" textLength="27.0" lengthAdjust="spacingAndGlyphs">ft.</text>
<text x="1444.5" y="316.6" font-size="26.8" textLength="22.5" lengthAdjust="spacingAndGlyphs">10</text>
<text x="1467.5" y="316.6" font-size="13" textLength="21.0" lengthAdjust="spacingAndGlyphs">ths</text>
<text x="1750.0" y="337.5" textLength="123.0" lengthAdjust="spacingAndGlyphs">Alexander</text>
<text x="1891.0" y="337.9" textLength="56.1" lengthAdjust="spacingAndGlyphs">Tait,</text>
<text x="1965.0" y="338.2" font-size="26.8" textLength="22.5" lengthAdjust="spacingAndGlyphs">11</text>
<text x="1987.6" y="338.2" textLength="6.9" lengthAdjust="spacingAndGlyphs">,</text>
<text x="2012.4" y="338.5" textLength="90.8" lengthAdjust="spacingAndGlyphs">Church</text>
<text x="2121.1" y="338.9" textLength="38.5" lengthAdjust="spacingAndGlyphs">St.,</text>
<text x="2177.5" y="339.3" textLength="128.5" lengthAdjust="spacingAndGlyphs">Cairnbulg,</text>
<text x="1775.0" y="359.9" textLength="180.7" lengthAdjust="spacingAndGlyphs">Aberdeenshire.</text>
<text x="1995.0" y="360.6" font-style="italic" textLength="75.7" lengthAdjust="spacingAndGlyphs">Gilbert</text>
<text x="2088.6" y="361.1" font-style="italic" textLength="98.3" lengthAdjust="spacingAndGlyphs">Peterkin,</text>
<text x="2204.8" y="361.6" font-style="italic" textLength="101.2" lengthAdjust="spacingAndGlyphs">Rosehall,</text>
<text x="1775.0" y="381.5" font-style="italic" textLength="52.5" lengthAdjust="spacingAndGlyphs">King</text>
<text x="1836.0" y="381.9" font-style="italic" textLength="84.5" lengthAdjust="spacingAndGlyphs">Edward</text>
<text x="1929.0" y="382.2" font-style="italic" textLength="35.0" lengthAdjust="spacingAndGlyphs">St.,</text>
<text x="1972.4" y="382.6" font-style="italic" textLength="145.0" lengthAdjust="spacingAndGlyphs">Fraserburgh.</text>
<text x="1749.0" y="404.9" textLength="46.2" lengthAdjust="spacingAndGlyphs">The</text>
<text x="1800.9" y="405.2" textLength="64.6" lengthAdjust="spacingAndGlyphs">Swan</text>
<text x="1871.2" y="405.5" textLength="66.1" lengthAdjust="spacingAndGlyphs">River</text>
<text x="1943.1" y="405.9" textLength="106.2" lengthAdjust="spacingAndGlyphs">Shipping</text>
<text x="2055.0" y="406.5" textLength="183.8" lengthAdjust="spacingAndGlyphs">Co.,Lim.,Perth,</text>
<text x="2244.5" y="407.0" textLength="61.5" lengthAdjust="spacingAndGlyphs">W.A.</text>
<text x="1750.0" y="427.2" textLength="75.3" lengthAdjust="spacingAndGlyphs">Henry</text>
<text x="1833.8" y="427.6" textLength="108.4" lengthAdjust="spacingAndGlyphs">MacIver,</text>
<text x="1950.7" y="427.9" font-size="26.8" textLength="22.5" lengthAdjust="spacingAndGlyphs">44</text>
<text x="1973.3" y="428.0" textLength="6.9" lengthAdjust="spacingAndGlyphs">,</text>
<text x="1988.7" y="428.2" textLength="84.6" lengthAdjust="spacingAndGlyphs">Chapel</text>
<text x="2081.8" y="428.5" textLength="38.5" lengthAdjust="spacingAndGlyphs">St.,</text>
<text x="2128.8" y="428.9" textLength="122.3" lengthAdjust="spacingAndGlyphs">Liverpool.</text>
<text x="1775.0" y="449.0" font-style="italic" textLength="90.3" lengthAdjust="spacingAndGlyphs">Lachlan</text>
<text x="1892.6" y="449.4" font-style="italic" textLength="26.9" lengthAdjust="spacingAndGlyphs">H.</text>
<text x="1946.9" y="449.8" font-style="italic" textLength="101.2" lengthAdjust="spacingAndGlyphs">Gilchrist,</text>
<text x="2075.5" y="450.4" font-style="italic" textLength="151.5" lengthAdjust="spacingAndGlyphs">Craigendoran</text>
<text x="2254.3" y="451.0" font-style="italic" textLength="51.7" lengthAdjust="spacingAndGlyphs">Pier,</text>
<text x="1785.0" y="471.1" font-style="italic" textLength="147.9" lengthAdjust="spacingAndGlyphs">Helensburgh.</text>
<path d="M1745.4,480.9L1758.2,493.7M1758.2,480.9L1745.4,493.7" stroke="#000" stroke-width="2.2" fill="none"/>
<text x="1763.0" y="494.3" textLength="58.5" lengthAdjust="spacingAndGlyphs">John</text>
<text x="1830.0" y="494.5" textLength="25.4" lengthAdjust="spacingAndGlyphs">L.</text>
<text x="1863.9" y="494.8" textLength="80.7" lengthAdjust="spacingAndGlyphs">Green,</text>
<text x="1953.1" y="495.1" textLength="50.8" lengthAdjust="spacingAndGlyphs">Fish</text>
<text x="2012.4" y="495.4" textLength="79.2" lengthAdjust="spacingAndGlyphs">Docks,</text>
<text x="2100.1" y="495.8" textLength="111.5" lengthAdjust="spacingAndGlyphs">Grimsby.</text>
<text x="1750.0" y="516.8" textLength="113.6" lengthAdjust="spacingAndGlyphs">Pickering</text>
<text x="1867.6" y="517.1" textLength="23.0" lengthAdjust="spacingAndGlyphs">&amp;</text>
<text x="1894.6" y="518.0" textLength="411.4" lengthAdjust="spacingAndGlyphs">Haldane'sSteamTrawlingCo..Lim.,</text>
<text x="1775.0" y="538.3" textLength="59.2" lengthAdjust="spacingAndGlyphs">Hull.</text>
<text x="1860.0" y="538.9" font-style="italic" textLength="170.4" lengthAdjust="spacingAndGlyphs">Hy.A.L.Russell,</text>
<text x="2039.0" y="539.3" font-style="italic" textLength="28.4" lengthAdjust="spacingAndGlyphs">St.</text>
<text x="2076.0" y="539.6" font-style="italic" textLength="102.0" lengthAdjust="spacingAndGlyphs">Andrew's</text>
<text x="2186.6" y="540.1" font-style="italic" textLength="119.4" lengthAdjust="spacingAndGlyphs">Dock,Hull.</text>
<text x="1750.0" y="561.8" textLength="46.2" lengthAdjust="spacingAndGlyphs">The</text>
<text x="1804.9" y="562.2" textLength="95.3" lengthAdjust="spacingAndGlyphs">General</text>
<text x="1909.0" y="562.6" textLength="73.8" lengthAdjust="spacingAndGlyphs">Steam</text>
<text x="1991.6" y="562.9" textLength="54.6" lengthAdjust="spacingAndGlyphs">Nav.</text>
<text x="2054.9" y="563.1" textLength="47.7" lengthAdjust="spacingAndGlyphs">Co.,</text>
<text x="2111.4" y="563.4" textLength="63.1" lengthAdjust="spacingAndGlyphs">Lim.,</text>
<text x="2183.2" y="563.6" font-size="26.8" textLength="22.5" lengthAdjust="spacingAndGlyphs">15</text>
<text x="2205.7" y="563.7" textLength="6.9" lengthAdjust="spacingAndGlyphs">,</text>
<text x="2221.4" y="563.9" textLength="84.6" lengthAdjust="spacingAndGlyphs">Trinity</text>
<text x="1775.0" y="583.6" textLength="44.6" lengthAdjust="spacingAndGlyphs">Sq.,</text>
<text x="1828.1" y="583.9" textLength="57.7" lengthAdjust="spacingAndGlyphs">City,</text>
<text x="1894.3" y="584.2" textLength="99.3" lengthAdjust="spacingAndGlyphs">London.</text>
<text x="1775.0" y="605.4" font-style="italic" textLength="125.3" lengthAdjust="spacingAndGlyphs">Willoughby</text>
<text x="1908.8" y="605.7" font-style="italic" textLength="24.0" lengthAdjust="spacingAndGlyphs">K.</text>
<text x="1941.3" y="606.0" font-style="italic" textLength="61.9" lengthAdjust="spacingAndGlyphs">John,</text>
<text x="2011.7" y="606.2" font-style="italic" textLength="55.3" lengthAdjust="spacingAndGlyphs">same</text>
<text x="2075.6" y="606.6" font-style="italic" textLength="88.1" lengthAdjust="spacingAndGlyphs">address.</text>
<text x="1750.0" y="627.7" textLength="73.8" lengthAdjust="spacingAndGlyphs">James</text>
<text x="1844.6" y="628.1" textLength="104.6" lengthAdjust="spacingAndGlyphs">Paterson</text>
<text x="1969.9" y="628.5" textLength="23.1" lengthAdjust="spacingAndGlyphs">&amp;</text>
<text x="2013.8" y="628.7" textLength="47.7" lengthAdjust="spacingAndGlyphs">Co.,</text>
<text x="2082.3" y="629.2" textLength="139.9" lengthAdjust="spacingAndGlyphs">Proprietary</text>
<text x="2242.9" y="629.7" textLength="63.1" lengthAdjust="spacingAndGlyphs">Lim.,</text>
<text x="1775.0" y="650.6" textLength="137.6" lengthAdjust="spacingAndGlyphs">Melbourne.</text>
<text x="1750.0" y="673.3" textLength="46.2" lengthAdjust="spacingAndGlyphs">The</text>
<text x="1805.0" y="673.7" textLength="101.5" lengthAdjust="spacingAndGlyphs">Minister</text>
<text x="1915.3" y="674.0" textLength="23.1" lengthAdjust="spacingAndGlyphs">of</text>
<text x="1947.2" y="674.3" textLength="103.1" lengthAdjust="spacingAndGlyphs">Customs</text>
<text x="2059.1" y="674.6" textLength="35.3" lengthAdjust="spacingAndGlyphs">for</text>
<text x="2103.3" y="674.9" textLength="99.2" lengthAdjust="spacingAndGlyphs">Canada,</text>
<text x="2211.4" y="675.4" textLength="94.6" lengthAdjust="spacingAndGlyphs">Ottawa,</text>
<text x="1750.0" y="694.4" textLength="73.8" lengthAdjust="spacingAndGlyphs">Chant</text>
<text x="1829.9" y="694.7" textLength="44.6" lengthAdjust="spacingAndGlyphs">and</text>
<text x="1880.5" y="695.0" textLength="90.8" lengthAdjust="spacingAndGlyphs">Paddon</text>
<text x="1977.3" y="695.3" textLength="63.1" lengthAdjust="spacingAndGlyphs">Lim.,</text>
<text x="2040.4" y="695.5" font-size="26.8" textLength="22.5" lengthAdjust="spacingAndGlyphs">12</text>
<text x="2062.9" y="696.1" textLength="243.1" lengthAdjust="spacingAndGlyphs">,QuayRd.,Plymouth.</text>
<text x="1775.0" y="716.2" font-style="italic" textLength="68.4" lengthAdjust="spacingAndGlyphs">James</text>
<text x="1852.0" y="716.5" font-style="italic" textLength="67.0" lengthAdjust="spacingAndGlyphs">Chant</text>
<text x="1919.0" y="716.7" textLength="6.9" lengthAdjust="spacingAndGlyphs">,</text>
<text x="1934.4" y="716.8" font-size="26.8" textLength="22.5" lengthAdjust="spacingAndGlyphs">10</text>
<text x="1957.0" y="716.8" textLength="6.9" lengthAdjust="spacingAndGlyphs">,</text>
<text x="1972.4" y="717.1" font-style="italic" textLength="112.2" lengthAdjust="spacingAndGlyphs">Beaumont</text>
<text x="2093.1" y="717.5" font-style="italic" textLength="43.7" lengthAdjust="spacingAndGlyphs">Rd.,</text>
<text x="2145.3" y="717.8" font-style="italic" textLength="111.4" lengthAdjust="spacingAndGlyphs">Plymouth,</text>
<text x="2265.2" y="718.2" font-style="italic" textLength="40.8" lengthAdjust="spacingAndGlyphs">and</text>
<text x="1787.0" y="739.8" font-style="italic" textLength="84.5" lengthAdjust="spacingAndGlyphs">Herbert</text>
<text x="1878.8" y="740.0" font-style="italic" textLength="29.9" lengthAdjust="spacingAndGlyphs">W.</text>
<text x="1916.0" y="740.3" font-style="italic" textLength="67.0" lengthAdjust="spacingAndGlyphs">Chant</text>
<text x="1983.1" y="740.4" textLength="6.9" lengthAdjust="spacingAndGlyphs">,</text>
<text x="1997.4" y="740.5" font-size="26.8" textLength="22.5" lengthAdjust="spacingAndGlyphs">23</text>
<text x="2019.9" y="740.6" textLength="6.9" lengthAdjust="spacingAndGlyphs">,</text>
<text x="2034.2" y="740.8" font-style="italic" textLength="102.0" lengthAdjust="spacingAndGlyphs">Salisbury</text>
<text x="2143.5" y="741.2" font-style="italic" textLength="43.7" lengthAdjust="spacingAndGlyphs">Rd.,</text>
<text x="2194.6" y="741.5" font-style="italic" textLength="111.4" lengthAdjust="spacingAndGlyphs">Plymouth.</text>
<text x="1750.0" y="762.4" textLength="46.2" lengthAdjust="spacingAndGlyphs">The</text>
<text x="1800.3" y="762.8" textLength="110.8" lengthAdjust="spacingAndGlyphs">Shanghai</text>
<text x="1915.3" y="763.1" textLength="47.7" lengthAdjust="spacingAndGlyphs">Tug</text>
<text x="1967.2" y="763.5" textLength="112.3" lengthAdjust="spacingAndGlyphs">&amp;Lighter</text>
<text x="2083.7" y="764.2" textLength="222.3" lengthAdjust="spacingAndGlyphs">Co.,Ltd.,Shanghai,</text>
<path d="M1745.4,771.6L1758.2,784.4M1758.2,771.6L1745.4,784.4" stroke="#000" stroke-width="2.2" fill="none"/>
<text x="1763.0" y="785.1" textLength="95.4" lengthAdjust="spacingAndGlyphs">Thomas</text>
<text x="1872.2" y="785.5" textLength="95.3" lengthAdjust="spacingAndGlyphs">Reeves,.</text>
<text x="1967.5" y="785.8" font-size="26.8" textLength="22.5" lengthAdjust="spacingAndGlyphs">12</text>
<text x="1990.0" y="785.9" textLength="6.9" lengthAdjust="spacingAndGlyphs">,</text>
<text x="2010.8" y="786.2" textLength="124.6" lengthAdjust="spacingAndGlyphs">Alexandra</text>
<text x="2149.2" y="786.7" textLength="74.6" lengthAdjust="spacingAndGlyphs">Villas,</text>
<text x="2237.6" y="787.0" textLength="68.4" lengthAdjust="spacingAndGlyphs">Hove,</text>
<text x="1775.0" y="807.3" textLength="85.4" lengthAdjust="spacingAndGlyphs">Sussex.</text>
<text x="1750.0" y="829.0" textLength="132.3" lengthAdjust="spacingAndGlyphs">Lighthouse</text>
<text x="1899.4" y="829.5" textLength="87.7" lengthAdjust="spacingAndGlyphs">Fishing</text>
<text x="2004.1" y="829.9" textLength="47.7" lengthAdjust="spacingAndGlyphs">Co.,</text>
<text x="2068.8" y="830.2" textLength="63.1" lengthAdjust="spacingAndGlyphs">Lim.,</text>
<text x="2149.0" y="830.6" textLength="69.3" lengthAdjust="spacingAndGlyphs">South</text>
<text x="2235.3" y="830.9" textLength="70.7" lengthAdjust="spacingAndGlyphs">Denes</text>
<text x="1775.0" y="851.3" textLength="49.2" lengthAdjust="spacingAndGlyphs">Rd.,</text>
<text x="1832.7" y="851.6" textLength="37.7" lengthAdjust="spacingAndGlyphs">Gt.</text>
<text x="1878.9" y="851.9" textLength="130.0" lengthAdjust="spacingAndGlyphs">Yarmouth.</text>
<text x="1775.0" y="873.6" font-style="italic" textLength="59.7" lengthAdjust="spacingAndGlyphs">Colin</text>
<text x="1843.2" y="873.8" font-style="italic" textLength="24.0" lengthAdjust="spacingAndGlyphs">R.</text>
<text x="1875.8" y="874.0" font-style="italic" textLength="70.6" lengthAdjust="spacingAndGlyphs">Sellar,</text>
<text x="1954.9" y="874.4" font-style="italic" textLength="96.9" lengthAdjust="spacingAndGlyphs">Boddam,</text>
<text x="2060.3" y="874.9" font-style="italic" textLength="115.8" lengthAdjust="spacingAndGlyphs">Peterhead.</text>
<text x="1750.0" y="896.0" textLength="101.5" lengthAdjust="spacingAndGlyphs">Leonard</text>
<text x="1860.0" y="896.5" textLength="94.6" lengthAdjust="spacingAndGlyphs">Curara,</text>
<text x="1963.1" y="897.0" textLength="134.6" lengthAdjust="spacingAndGlyphs">Townsville,</text>
<text x="2106.2" y="897.6" textLength="146.9" lengthAdjust="spacingAndGlyphs">Queensland.</text>
<text x="1752.0" y="918.9" textLength="86.1" lengthAdjust="spacingAndGlyphs">Merrill</text>
<text x="1846.6" y="919.2" textLength="43.1" lengthAdjust="spacingAndGlyphs">Des</text>
<text x="1898.1" y="919.5" textLength="83.8" lengthAdjust="spacingAndGlyphs">Brisay,</text>
<text x="1990.5" y="920.0" textLength="136.1" lengthAdjust="spacingAndGlyphs">Vancouver,</text>
<text x="2135.0" y="920.5" textLength="52.3" lengthAdjust="spacingAndGlyphs">B.C.</text>
<text x="1750.0" y="941.1" textLength="81.5" lengthAdjust="spacingAndGlyphs">Crown</text>
<text x="1843.6" y="941.5" textLength="73.8" lengthAdjust="spacingAndGlyphs">Steam</text>
<text x="1929.4" y="941.9" textLength="87.7" lengthAdjust="spacingAndGlyphs">Fishing</text>
<text x="2029.1" y="942.2" textLength="47.7" lengthAdjust="spacingAndGlyphs">Co.,</text>
<text x="2088.9" y="942.5" textLength="63.1" lengthAdjust="spacingAndGlyphs">Lim.,</text>
<text x="2164.0" y="942.8" textLength="50.8" lengthAdjust="spacingAndGlyphs">Fish</text>
<text x="2226.8" y="943.1" textLength="79.2" lengthAdjust="spacingAndGlyphs">Docks,</text>
<text x="1775.0" y="963.8" textLength="111.5" lengthAdjust="spacingAndGlyphs">Grimsby.</text>
<text x="1775.0" y="985.3" font-style="italic" textLength="78.6" lengthAdjust="spacingAndGlyphs">George</text>
<text x="1862.1" y="985.6" font-style="italic" textLength="24.0" lengthAdjust="spacingAndGlyphs">E.</text>
<text x="1894.7" y="985.7" font-style="italic" textLength="19.7" lengthAdjust="spacingAndGlyphs">J.</text>
<text x="1922.8" y="985.9" font-style="italic" textLength="80.8" lengthAdjust="spacingAndGlyphs">Moody,</text>
<text x="2012.1" y="986.2" font-style="italic" textLength="55.3" lengthAdjust="spacingAndGlyphs">same</text>
<text x="2076.0" y="986.6" font-style="italic" textLength="88.1" lengthAdjust="spacingAndGlyphs">address.</text>
<text x="1752.0" y="1007.8" textLength="115.4" lengthAdjust="spacingAndGlyphs">Nathaniel</text>
<text x="1875.9" y="1008.1" textLength="20.8" lengthAdjust="spacingAndGlyphs">J.</text>
<text x="1905.1" y="1008.4" textLength="85.4" lengthAdjust="spacingAndGlyphs">Howes,</text>
<text x="1999.0" y="1008.8" textLength="113.1" lengthAdjust="spacingAndGlyphs">Brisbane,</text>
<text x="2120.5" y="1009.4" textLength="146.9" lengthAdjust="spacingAndGlyphs">Queensland.</text>
<path d="M1745.4,1016.5L1758.2,1029.3M1758.2,1016.5L1745.4,1029.3" stroke="#000" stroke-width="2.2" fill="none"/>
<text x="1763.0" y="1030.0" textLength="95.4" lengthAdjust="spacingAndGlyphs">Thomas</text>
<text x="1866.5" y="1030.5" textLength="113.1" lengthAdjust="spacingAndGlyphs">Coppack,</text>
<text x="1987.7" y="1030.8" textLength="31.5" lengthAdjust="spacingAndGlyphs">St.</text>
<text x="2027.4" y="1031.1" textLength="86.1" lengthAdjust="spacingAndGlyphs">Mark's</text>
<text x="2121.7" y="1031.4" textLength="63.8" lengthAdjust="spacingAndGlyphs">Villa,</text>
<text x="2193.7" y="1031.8" textLength="112.3" lengthAdjust="spacingAndGlyphs">Connah's</text>
<text x="1775.0" y="1052.2" textLength="71.5" lengthAdjust="spacingAndGlyphs">Quay,</text>
<text x="1855.0" y="1052.5" textLength="63.8" lengthAdjust="spacingAndGlyphs">Flint.</text>
<text x="1750.0" y="1074.4" textLength="68.4" lengthAdjust="spacingAndGlyphs">Cork,</text>
<text x="1823.0" y="1074.8" textLength="128.4" lengthAdjust="spacingAndGlyphs">Blackrock,</text>
<text x="1955.9" y="1075.1" textLength="23.1" lengthAdjust="spacingAndGlyphs">&amp;</text>
<text x="1983.5" y="1075.4" textLength="92.3" lengthAdjust="spacingAndGlyphs">Passage</text>
<text x="2080.2" y="1075.7" textLength="49.2" lengthAdjust="spacingAndGlyphs">Rail</text>
<text x="2134.0" y="1075.9" textLength="47.7" lengthAdjust="spacingAndGlyphs">Co.,</text>
<text x="2186.2" y="1076.2" textLength="76.9" lengthAdjust="spacingAndGlyphs">Albert</text>
<text x="2267.5" y="1076.5" textLength="38.5" lengthAdjust="spacingAndGlyphs">St.,</text>
<text x="1775.0" y="1097.5" textLength="68.4" lengthAdjust="spacingAndGlyphs">Cork.</text>
<text x="1775.0" y="1119.7" font-style="italic" textLength="87.4" lengthAdjust="spacingAndGlyphs">Richard</text>
<text x="1870.9" y="1120.0" font-style="italic" textLength="26.9" lengthAdjust="spacingAndGlyphs">H.</text>
<text x="1906.3" y="1120.2" font-style="italic" textLength="64.8" lengthAdjust="spacingAndGlyphs">Good,</text>
<text x="1979.7" y="1120.5" font-style="italic" textLength="55.3" lengthAdjust="spacingAndGlyphs">same</text>
<text x="2043.5" y="1120.8" font-style="italic" textLength="88.1" lengthAdjust="spacingAndGlyphs">address.</text>
<text x="1752.0" y="1141.9" textLength="20.8" lengthAdjust="spacingAndGlyphs">J.</text>
<text x="1781.8" y="1142.1" textLength="44.6" lengthAdjust="spacingAndGlyphs">and</text>
<text x="1835.5" y="1142.2" textLength="20.8" lengthAdjust="spacingAndGlyphs">J.</text>
<text x="1865.3" y="1142.4" textLength="56.1" lengthAdjust="spacingAndGlyphs">Hay,</text>
<text x="1930.5" y="1142.7" textLength="63.1" lengthAdjust="spacingAndGlyphs">Lim.,</text>
<text x="2002.6" y="1142.9" font-size="26.8" textLength="22.5" lengthAdjust="spacingAndGlyphs">58</text>
<text x="2025.1" y="1143.0" textLength="6.9" lengthAdjust="spacingAndGlyphs">,</text>
<text x="2041.1" y="1143.3" textLength="100.0" lengthAdjust="spacingAndGlyphs">Renfield</text>
<text x="2150.1" y="1143.6" textLength="38.5" lengthAdjust="spacingAndGlyphs">St.,</text>
<text x="2197.6" y="1143.9" textLength="108.4" lengthAdjust="spacingAndGlyphs">Glasgow.</text>
<text x="1775.0" y="1163.8" font-style="italic" textLength="55.4" lengthAdjust="spacingAndGlyphs">John</text>
<text x="1838.9" y="1164.0" font-style="italic" textLength="51.7" lengthAdjust="spacingAndGlyphs">Hay,</text>
<text x="1899.1" y="1164.3" font-style="italic" textLength="55.3" lengthAdjust="spacingAndGlyphs">same</text>
<text x="1962.9" y="1164.6" font-style="italic" textLength="88.1" lengthAdjust="spacingAndGlyphs">address.</text>
<path d="M1745.4,1173.3L1758.2,1186.1M1758.2,1173.3L1745.4,1186.1" stroke="#000" stroke-width="2.2" fill="none"/>
<text x="1763.0" y="1186.7" textLength="76.9" lengthAdjust="spacingAndGlyphs">Albert</text>
<text x="1845.5" y="1187.1" textLength="58.5" lengthAdjust="spacingAndGlyphs">John</text>
<text x="1909.7" y="1187.4" textLength="77.7" lengthAdjust="spacingAndGlyphs">Smith,</text>
<text x="1993.0" y="1187.7" textLength="61.5" lengthAdjust="spacingAndGlyphs">N.W.</text>
<text x="2060.2" y="1188.0" textLength="92.3" lengthAdjust="spacingAndGlyphs">Canada</text>
<text x="2158.1" y="1188.4" textLength="68.4" lengthAdjust="spacingAndGlyphs">Dock,</text>
<text x="2232.2" y="1188.7" textLength="73.8" lengthAdjust="spacingAndGlyphs">Liver-</text>
<text x="1775.0" y="1208.0" textLength="57.7" lengthAdjust="spacingAndGlyphs">pool.</text>
<text x="1750.0" y="1231.2" textLength="46.2" lengthAdjust="spacingAndGlyphs">The</text>
<text x="1809.8" y="1231.6" textLength="124.6" lengthAdjust="spacingAndGlyphs">Alexandra</text>
<text x="1948.1" y="1232.2" textLength="89.2" lengthAdjust="spacingAndGlyphs">Towing</text>
<text x="2051.0" y="1232.5" textLength="47.7" lengthAdjust="spacingAndGlyphs">Co.,</text>
<text x="2112.3" y="1232.8" textLength="63.1" lengthAdjust="spacingAndGlyphs">Lim.,</text>
<text x="2189.1" y="1233.0" font-size="26.8" textLength="22.5" lengthAdjust="spacingAndGlyphs">25</text>
<text x="2211.6" y="1233.1" textLength="6.9" lengthAdjust="spacingAndGlyphs">,</text>
<text x="2232.2" y="1233.3" textLength="73.8" lengthAdjust="spacingAndGlyphs">Drury</text>
<text x="1775.0" y="1253.2" textLength="119.3" lengthAdjust="spacingAndGlyphs">Buildings,</text>
<text x="1902.8" y="1253.5" font-size="26.8" textLength="22.5" lengthAdjust="spacingAndGlyphs">21</text>
<text x="1925.3" y="1253.6" textLength="6.9" lengthAdjust="spacingAndGlyphs">,</text>
<text x="1940.7" y="1253.8" textLength="75.3" lengthAdjust="spacingAndGlyphs">Water</text>
<text x="2024.6" y="1254.1" textLength="38.5" lengthAdjust="spacingAndGlyphs">St.,</text>
<text x="2071.5" y="1254.4" textLength="122.3" lengthAdjust="spacingAndGlyphs">Liverpool.</text>
<text x="1772.0" y="1275.5" font-style="italic" textLength="91.7" lengthAdjust="spacingAndGlyphs">Silvester</text>
<text x="1872.2" y="1275.8" font-style="italic" textLength="19.7" lengthAdjust="spacingAndGlyphs">J.</text>
<text x="1900.4" y="1276.0" font-style="italic" textLength="86.6" lengthAdjust="spacingAndGlyphs">Procter,</text>
<text x="1995.5" y="1276.4" font-style="italic" textLength="55.3" lengthAdjust="spacingAndGlyphs">same</text>
<text x="2059.4" y="1276.7" font-style="italic" textLength="88.1" lengthAdjust="spacingAndGlyphs">address.</text>
<text x="1750.0" y="1298.9" textLength="100.0" lengthAdjust="spacingAndGlyphs">Adolphe</text>
<text x="1867.1" y="1299.3" textLength="26.9" lengthAdjust="spacingAndGlyphs">A.</text>
<text x="1911.0" y="1299.6" textLength="74.6" lengthAdjust="spacingAndGlyphs">Pepin,</text>
<text x="2002.7" y="1299.9" textLength="31.5" lengthAdjust="spacingAndGlyphs">St.</text>
<text x="2051.3" y="1300.1" textLength="70.0" lengthAdjust="spacingAndGlyphs">Aime,</text>
<text x="2138.3" y="1300.4" textLength="33.1" lengthAdjust="spacingAndGlyphs">co.</text>
<text x="2188.4" y="1300.8" textLength="117.6" lengthAdjust="spacingAndGlyphs">Richelieu,</text>
<text x="1775.0" y="1322.0" textLength="96.1" lengthAdjust="spacingAndGlyphs">Quebec.</text>
<text x="1755.0" y="1344.1" textLength="75.4" lengthAdjust="spacingAndGlyphs">Upper</text>
<text x="1835.7" y="1344.5" textLength="87.7" lengthAdjust="spacingAndGlyphs">Ottawa</text>
<text x="1928.6" y="1345.0" textLength="161.5" lengthAdjust="spacingAndGlyphs">Improvement</text>
<text x="2095.4" y="1345.5" textLength="47.7" lengthAdjust="spacingAndGlyphs">Co.,</text>
<text x="2148.4" y="1345.9" textLength="157.6" lengthAdjust="spacingAndGlyphs">Lim.,Ottawa,</text>
<text x="1752.0" y="1365.9" textLength="46.2" lengthAdjust="spacingAndGlyphs">The</text>
<text x="1811.4" y="1366.3" textLength="115.4" lengthAdjust="spacingAndGlyphs">Plymouth</text>
<text x="1940.1" y="1366.9" textLength="135.3" lengthAdjust="spacingAndGlyphs">Promenade</text>
<text x="2088.7" y="1367.4" textLength="49.2" lengthAdjust="spacingAndGlyphs">Pier</text>
<text x="2151.2" y="1367.6" textLength="44.6" lengthAdjust="spacingAndGlyphs">and</text>
<text x="2209.1" y="1368.0" textLength="96.9" lengthAdjust="spacingAndGlyphs">Pavilion</text>
<text x="1775.0" y="1388.2" textLength="47.7" lengthAdjust="spacingAndGlyphs">Co.,</text>
<text x="1831.2" y="1388.5" textLength="63.1" lengthAdjust="spacingAndGlyphs">Lim.,</text>
<text x="1902.7" y="1389.0" textLength="135.3" lengthAdjust="spacingAndGlyphs">Promenade</text>
<text x="2046.6" y="1389.4" textLength="56.1" lengthAdjust="spacingAndGlyphs">Pier,</text>
<text x="2111.2" y="1389.8" textLength="122.3" lengthAdjust="spacingAndGlyphs">Plymouth.</text>
<text x="1775.0" y="1410.0" font-style="italic" textLength="85.9" lengthAdjust="spacingAndGlyphs">William</text>
<text x="1869.5" y="1410.3" font-style="italic" textLength="24.0" lengthAdjust="spacingAndGlyphs">C.</text>
<text x="1902.0" y="1410.5" font-style="italic" textLength="82.3" lengthAdjust="spacingAndGlyphs">Leader,</text>
<text x="1992.8" y="1410.8" font-style="italic" textLength="42.2" lengthAdjust="spacingAndGlyphs">The</text>
<text x="2043.5" y="1411.1" font-style="italic" textLength="51.7" lengthAdjust="spacingAndGlyphs">Pier,</text>
<text x="2103.7" y="1411.4" font-style="italic" textLength="86.7" lengthAdjust="spacingAndGlyphs">Saltash,</text>
<text x="2198.9" y="1411.8" font-style="italic" textLength="107.1" lengthAdjust="spacingAndGlyphs">Cornwall.</text>
<text x="1752.0" y="1433.4" textLength="95.4" lengthAdjust="spacingAndGlyphs">William</text>
<text x="1856.2" y="1433.9" textLength="102.3" lengthAdjust="spacingAndGlyphs">Pearson,</text>
<text x="1967.2" y="1434.3" textLength="63.1" lengthAdjust="spacingAndGlyphs">Lim.,</text>
<text x="2039.1" y="1434.5" font-size="26.8" textLength="22.5" lengthAdjust="spacingAndGlyphs">15</text>
<text x="2061.6" y="1434.6" textLength="6.9" lengthAdjust="spacingAndGlyphs">,</text>
<text x="2077.3" y="1434.7" textLength="49.2" lengthAdjust="spacingAndGlyphs">Elm</text>
<text x="2135.4" y="1434.9" textLength="38.5" lengthAdjust="spacingAndGlyphs">St.,</text>
<text x="2182.6" y="1435.2" textLength="57.7" lengthAdjust="spacingAndGlyphs">City,</text>
<text x="2249.1" y="1435.4" textLength="56.9" lengthAdjust="spacingAndGlyphs">Lon-</text>
<text x="1775.0" y="1456.4" textLength="51.6" lengthAdjust="spacingAndGlyphs">don.</text>
<text x="1852.1" y="1456.8" font-style="italic" textLength="85.9" lengthAdjust="spacingAndGlyphs">William</text>
<text x="1946.5" y="1457.2" font-style="italic" textLength="86.6" lengthAdjust="spacingAndGlyphs">Mackie,</text>
<text x="2041.6" y="1457.6" font-style="italic" textLength="55.3" lengthAdjust="spacingAndGlyphs">same</text>
<text x="2105.5" y="1457.9" font-style="italic" textLength="88.1" lengthAdjust="spacingAndGlyphs">address.</text>
<text x="1752.0" y="1478.7" textLength="46.2" lengthAdjust="spacingAndGlyphs">The</text>
<text x="1807.9" y="1479.0" textLength="73.8" lengthAdjust="spacingAndGlyphs">Arctic</text>
<text x="1891.4" y="1479.3" textLength="58.5" lengthAdjust="spacingAndGlyphs">Gold</text>
<text x="1959.6" y="1479.8" textLength="141.5" lengthAdjust="spacingAndGlyphs">Exploration</text>
<text x="2110.9" y="1480.4" textLength="122.3" lengthAdjust="spacingAndGlyphs">Syndicate,</text>
<text x="2242.9" y="1480.8" textLength="63.1" lengthAdjust="spacingAndGlyphs">Lim.,</text>
<text x="1775.0" y="1501.2" font-size="26.8" textLength="11.3" lengthAdjust="spacingAndGlyphs">6</text>
<text x="1786.3" y="1501.2" textLength="6.9" lengthAdjust="spacingAndGlyphs">,</text>
<text x="1801.4" y="1501.3" textLength="44.6" lengthAdjust="spacingAndGlyphs">Old</text>
<text x="1854.3" y="1501.6" textLength="79.2" lengthAdjust="spacingAndGlyphs">Jewry,</text>
<text x="1941.7" y="1502.0" textLength="57.7" lengthAdjust="spacingAndGlyphs">City,</text>
<text x="2007.6" y="1502.3" textLength="99.3" lengthAdjust="spacingAndGlyphs">London.</text>
<text x="2124.9" y="1502.8" font-style="italic" textLength="68.4" lengthAdjust="spacingAndGlyphs">Henry</text>
<text x="2201.6" y="1503.0" font-style="italic" textLength="22.6" lengthAdjust="spacingAndGlyphs">T.</text>
<text x="2232.4" y="1503.2" font-style="italic" textLength="73.6" lengthAdjust="spacingAndGlyphs">Munn,</text>
<text x="1775.0" y="1523.3" font-style="italic" textLength="72.9" lengthAdjust="spacingAndGlyphs">Junior</text>
<text x="1856.4" y="1523.7" font-style="italic" textLength="83.0" lengthAdjust="spacingAndGlyphs">Carlton</text>
<text x="1947.9" y="1524.0" font-style="italic" textLength="59.0" lengthAdjust="spacingAndGlyphs">Club,</text>
<text x="2015.4" y="1524.2" font-style="italic" textLength="43.7" lengthAdjust="spacingAndGlyphs">Pall</text>
<text x="2067.6" y="1524.5" font-style="italic" textLength="57.5" lengthAdjust="spacingAndGlyphs">Mall,</text>
<text x="2133.6" y="1524.8" font-style="italic" textLength="91.0" lengthAdjust="spacingAndGlyphs">London.</text>
<text x="1752.0" y="1545.8" textLength="73.8" lengthAdjust="spacingAndGlyphs">Frank</text>
<text x="1834.3" y="1546.1" textLength="76.1" lengthAdjust="spacingAndGlyphs">Noble,</text>
<text x="1919.0" y="1546.6" textLength="117.6" lengthAdjust="spacingAndGlyphs">Montreal,</text>
<text x="2045.1" y="1547.1" textLength="96.1" lengthAdjust="spacingAndGlyphs">Quebec.</text>
<text x="2243.7" y="652.4" textLength="62.3" lengthAdjust="spacingAndGlyphs">[Ont.</text>
<text x="2243.7" y="1323.9" textLength="62.3" lengthAdjust="spacingAndGlyphs">[Ont.</text>
<g transform="translate(2361.5,287.5) rotate(90)"><text x="1.8" y="0.0" font-size="36" textLength="263.9" lengthAdjust="spacingAndGlyphs">ALPHABETICAL</text>
<text x="283.2" y="0.0" font-size="36" textLength="75.1" lengthAdjust="spacingAndGlyphs">LIST</text>
<text x="377.7" y="0.0" font-size="36" textLength="38.0" lengthAdjust="spacingAndGlyphs">OF</text>
<text x="436.9" y="0.0" font-size="36" textLength="141.1" lengthAdjust="spacingAndGlyphs">BRITISH</text>
<text x="595.8" y="0.0" font-size="36" textLength="221.1" lengthAdjust="spacingAndGlyphs">REGISTERED</text>
<text x="836.5" y="0.0" font-size="36" textLength="95.1" lengthAdjust="spacingAndGlyphs">STEAM</text>
<text x="951.3" y="0.0" font-size="36" textLength="181.6" lengthAdjust="spacingAndGlyphs">VESSELS.</text></g>
<g transform="translate(2361,63.8) rotate(90)"><text x="0.0" y="0.0" font-size="34.5" textLength="31.3" lengthAdjust="spacingAndGlyphs">12</text></g>
<g clip-path="url(#fc)" fill="#666"><text x="1068.0" y="1612.8" font-size="21" font-weight="normal" textLength="319.0" lengthAdjust="spacingAndGlyphs">* Formerly a sailing vessel.</text></g>
</g>
</svg>
</body></html>
